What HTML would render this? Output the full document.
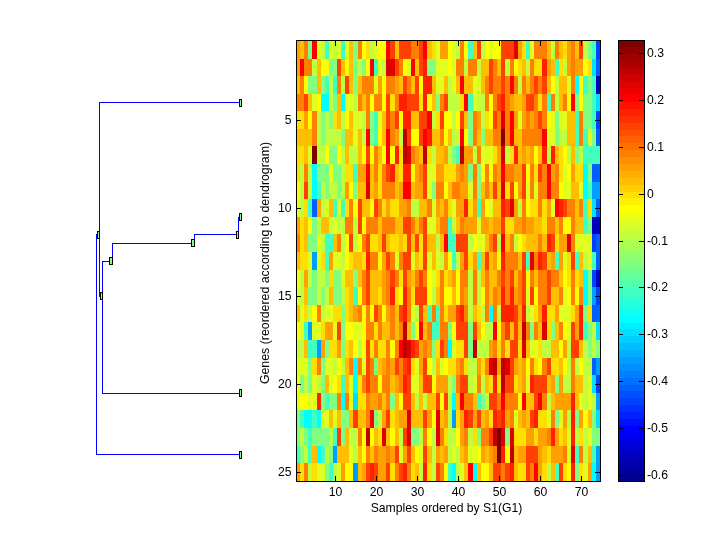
<!DOCTYPE html>
<html><head><meta charset="utf-8"><style>
html,body{margin:0;padding:0;background:#fff;width:720px;height:540px;overflow:hidden}
svg{display:block;will-change:transform}
text{font-family:"Liberation Sans",sans-serif;font-size:12.2px;fill:#000}
</style></head><body>
<svg width="720" height="540" viewBox="0 0 720 540" shape-rendering="crispEdges">
<rect x="0" y="0" width="720" height="540" fill="#fff"/>
<g><rect x="296" y="40" width="4" height="19" fill="#ff9f00"/>
<rect x="300" y="40" width="4" height="19" fill="#ffbf00"/>
<rect x="304" y="40" width="4" height="19" fill="#ff8000"/>
<rect x="308" y="40" width="4" height="19" fill="#80ff80"/>
<rect x="312" y="40" width="5" height="19" fill="#ff0000"/>
<rect x="317" y="40" width="4" height="19" fill="#dfff20"/>
<rect x="321" y="40" width="4" height="19" fill="#bfff40"/>
<rect x="325" y="40" width="4" height="19" fill="#40ffbf"/>
<rect x="329" y="40" width="4" height="19" fill="#dfff20"/>
<rect x="333" y="40" width="4" height="19" fill="#bfff40"/>
<rect x="337" y="40" width="4" height="19" fill="#dfff20"/>
<rect x="341" y="40" width="4" height="19" fill="#40ffbf"/>
<rect x="345" y="40" width="4" height="19" fill="#dfff20"/>
<rect x="349" y="40" width="4" height="19" fill="#ffbf00"/>
<rect x="353" y="40" width="5" height="19" fill="#80ff80"/>
<rect x="358" y="40" width="4" height="19" fill="#ff8000"/>
<rect x="362" y="40" width="4" height="19" fill="#ffff00"/>
<rect x="366" y="40" width="4" height="19" fill="#ffdf00"/>
<rect x="370" y="40" width="4" height="19" fill="#bfff40"/>
<rect x="374" y="40" width="4" height="19" fill="#dfff20"/>
<rect x="378" y="40" width="8" height="19" fill="#ffff00"/>
<rect x="386" y="40" width="4" height="19" fill="#ff0000"/>
<rect x="390" y="40" width="5" height="19" fill="#ff4000"/>
<rect x="395" y="40" width="4" height="19" fill="#ffbf00"/>
<rect x="399" y="40" width="12" height="19" fill="#ff4000"/>
<rect x="411" y="40" width="8" height="19" fill="#ff8000"/>
<rect x="419" y="40" width="4" height="19" fill="#ff4000"/>
<rect x="423" y="40" width="4" height="19" fill="#ff0000"/>
<rect x="427" y="40" width="5" height="19" fill="#ffbf00"/>
<rect x="432" y="40" width="4" height="19" fill="#ffdf00"/>
<rect x="436" y="40" width="4" height="19" fill="#dfff20"/>
<rect x="440" y="40" width="8" height="19" fill="#ff9f00"/>
<rect x="448" y="40" width="4" height="19" fill="#ffff00"/>
<rect x="452" y="40" width="4" height="19" fill="#dfff20"/>
<rect x="456" y="40" width="4" height="19" fill="#bfff40"/>
<rect x="460" y="40" width="4" height="19" fill="#ff8000"/>
<rect x="464" y="40" width="4" height="19" fill="#ffff00"/>
<rect x="468" y="40" width="5" height="19" fill="#40ffbf"/>
<rect x="473" y="40" width="4" height="19" fill="#ffbf00"/>
<rect x="477" y="40" width="4" height="19" fill="#ff4000"/>
<rect x="481" y="40" width="4" height="19" fill="#bfff40"/>
<rect x="485" y="40" width="4" height="19" fill="#ffff00"/>
<rect x="489" y="40" width="4" height="19" fill="#dfff20"/>
<rect x="493" y="40" width="8" height="19" fill="#ffff00"/>
<rect x="501" y="40" width="13" height="19" fill="#ff4000"/>
<rect x="514" y="40" width="4" height="19" fill="#df0000"/>
<rect x="518" y="40" width="4" height="19" fill="#ff9f00"/>
<rect x="522" y="40" width="4" height="19" fill="#ffdf00"/>
<rect x="526" y="40" width="4" height="19" fill="#40ffbf"/>
<rect x="530" y="40" width="4" height="19" fill="#dfff20"/>
<rect x="534" y="40" width="13" height="19" fill="#ff8000"/>
<rect x="547" y="40" width="4" height="19" fill="#ffbf00"/>
<rect x="551" y="40" width="4" height="19" fill="#bfff40"/>
<rect x="555" y="40" width="4" height="19" fill="#ff8000"/>
<rect x="559" y="40" width="4" height="19" fill="#ffbf00"/>
<rect x="563" y="40" width="4" height="19" fill="#ffdf00"/>
<rect x="567" y="40" width="4" height="19" fill="#ff9f00"/>
<rect x="571" y="40" width="4" height="19" fill="#ff8000"/>
<rect x="575" y="40" width="4" height="19" fill="#ffbf00"/>
<rect x="579" y="40" width="4" height="19" fill="#ff4000"/>
<rect x="583" y="40" width="5" height="19" fill="#bfff40"/>
<rect x="588" y="40" width="4" height="19" fill="#80ff80"/>
<rect x="592" y="40" width="4" height="19" fill="#40ffbf"/>
<rect x="596" y="40" width="4" height="19" fill="#0040ff"/>
<rect x="296" y="59" width="4" height="17" fill="#ff9f00"/>
<rect x="300" y="59" width="4" height="17" fill="#ff0000"/>
<rect x="304" y="59" width="8" height="17" fill="#ff8000"/>
<rect x="312" y="59" width="5" height="17" fill="#bfff40"/>
<rect x="317" y="59" width="4" height="17" fill="#ffbf00"/>
<rect x="321" y="59" width="8" height="17" fill="#ffff00"/>
<rect x="329" y="59" width="8" height="17" fill="#80ff80"/>
<rect x="337" y="59" width="4" height="17" fill="#ff4000"/>
<rect x="341" y="59" width="4" height="17" fill="#ffbf00"/>
<rect x="345" y="59" width="4" height="17" fill="#ffff00"/>
<rect x="349" y="59" width="4" height="17" fill="#ffbf00"/>
<rect x="353" y="59" width="5" height="17" fill="#80ff80"/>
<rect x="358" y="59" width="4" height="17" fill="#bfff40"/>
<rect x="362" y="59" width="4" height="17" fill="#80ff80"/>
<rect x="366" y="59" width="4" height="17" fill="#ffff00"/>
<rect x="370" y="59" width="4" height="17" fill="#ff0000"/>
<rect x="374" y="59" width="4" height="17" fill="#40ffbf"/>
<rect x="378" y="59" width="4" height="17" fill="#dfff20"/>
<rect x="382" y="59" width="4" height="17" fill="#bfff40"/>
<rect x="386" y="59" width="9" height="17" fill="#df0000"/>
<rect x="395" y="59" width="4" height="17" fill="#ff4000"/>
<rect x="399" y="59" width="4" height="17" fill="#ff8000"/>
<rect x="403" y="59" width="4" height="17" fill="#ffff00"/>
<rect x="407" y="59" width="4" height="17" fill="#dfff20"/>
<rect x="411" y="59" width="4" height="17" fill="#ff0000"/>
<rect x="415" y="59" width="4" height="17" fill="#ffbf00"/>
<rect x="419" y="59" width="4" height="17" fill="#ff4000"/>
<rect x="423" y="59" width="4" height="17" fill="#ff2000"/>
<rect x="427" y="59" width="9" height="17" fill="#80ff80"/>
<rect x="436" y="59" width="12" height="17" fill="#dfff20"/>
<rect x="448" y="59" width="4" height="17" fill="#ffff00"/>
<rect x="452" y="59" width="4" height="17" fill="#dfff20"/>
<rect x="456" y="59" width="8" height="17" fill="#ff8000"/>
<rect x="464" y="59" width="4" height="17" fill="#bfff40"/>
<rect x="468" y="59" width="9" height="17" fill="#ff8000"/>
<rect x="477" y="59" width="4" height="17" fill="#bfff40"/>
<rect x="481" y="59" width="8" height="17" fill="#ffbf00"/>
<rect x="489" y="59" width="4" height="17" fill="#ff4000"/>
<rect x="493" y="59" width="4" height="17" fill="#ff8000"/>
<rect x="497" y="59" width="4" height="17" fill="#ffbf00"/>
<rect x="501" y="59" width="4" height="17" fill="#ff4000"/>
<rect x="505" y="59" width="5" height="17" fill="#bfff40"/>
<rect x="510" y="59" width="4" height="17" fill="#ff8000"/>
<rect x="514" y="59" width="4" height="17" fill="#ffff00"/>
<rect x="518" y="59" width="4" height="17" fill="#ffdf00"/>
<rect x="522" y="59" width="4" height="17" fill="#ffbf00"/>
<rect x="526" y="59" width="4" height="17" fill="#bfff40"/>
<rect x="530" y="59" width="4" height="17" fill="#ff8000"/>
<rect x="534" y="59" width="8" height="17" fill="#ffdf00"/>
<rect x="542" y="59" width="5" height="17" fill="#ff2000"/>
<rect x="547" y="59" width="4" height="17" fill="#ff9f00"/>
<rect x="551" y="59" width="4" height="17" fill="#ffbf00"/>
<rect x="555" y="59" width="4" height="17" fill="#40ffbf"/>
<rect x="559" y="59" width="4" height="17" fill="#ffdf00"/>
<rect x="563" y="59" width="4" height="17" fill="#bfff40"/>
<rect x="567" y="59" width="4" height="17" fill="#ff9f00"/>
<rect x="571" y="59" width="4" height="17" fill="#ff8000"/>
<rect x="575" y="59" width="8" height="17" fill="#ff9f00"/>
<rect x="583" y="59" width="5" height="17" fill="#ffff00"/>
<rect x="588" y="59" width="4" height="17" fill="#ffdf00"/>
<rect x="592" y="59" width="4" height="17" fill="#00dfff"/>
<rect x="596" y="59" width="4" height="17" fill="#0060ff"/>
<rect x="296" y="76" width="4" height="18" fill="#ffbf00"/>
<rect x="300" y="76" width="4" height="18" fill="#ff8000"/>
<rect x="304" y="76" width="4" height="18" fill="#ffff00"/>
<rect x="308" y="76" width="9" height="18" fill="#80ff80"/>
<rect x="317" y="76" width="4" height="18" fill="#ffbf00"/>
<rect x="321" y="76" width="4" height="18" fill="#80ff80"/>
<rect x="325" y="76" width="4" height="18" fill="#40ffbf"/>
<rect x="329" y="76" width="4" height="18" fill="#bfff40"/>
<rect x="333" y="76" width="4" height="18" fill="#40ffbf"/>
<rect x="337" y="76" width="4" height="18" fill="#ff8000"/>
<rect x="341" y="76" width="4" height="18" fill="#bfff40"/>
<rect x="345" y="76" width="4" height="18" fill="#ff4000"/>
<rect x="349" y="76" width="4" height="18" fill="#ffbf00"/>
<rect x="353" y="76" width="5" height="18" fill="#80ff80"/>
<rect x="358" y="76" width="4" height="18" fill="#ffbf00"/>
<rect x="362" y="76" width="12" height="18" fill="#ff8000"/>
<rect x="374" y="76" width="4" height="18" fill="#dfff20"/>
<rect x="378" y="76" width="4" height="18" fill="#ff9f00"/>
<rect x="382" y="76" width="4" height="18" fill="#ffff00"/>
<rect x="386" y="76" width="9" height="18" fill="#ff8000"/>
<rect x="395" y="76" width="4" height="18" fill="#ff9f00"/>
<rect x="399" y="76" width="4" height="18" fill="#ffbf00"/>
<rect x="403" y="76" width="4" height="18" fill="#ff4000"/>
<rect x="407" y="76" width="4" height="18" fill="#ff8000"/>
<rect x="411" y="76" width="4" height="18" fill="#ffbf00"/>
<rect x="415" y="76" width="4" height="18" fill="#ff4000"/>
<rect x="419" y="76" width="4" height="18" fill="#ffff00"/>
<rect x="423" y="76" width="9" height="18" fill="#ff2000"/>
<rect x="432" y="76" width="4" height="18" fill="#ffbf00"/>
<rect x="436" y="76" width="8" height="18" fill="#dfff20"/>
<rect x="444" y="76" width="4" height="18" fill="#ffbf00"/>
<rect x="448" y="76" width="4" height="18" fill="#bfff40"/>
<rect x="452" y="76" width="4" height="18" fill="#dfff20"/>
<rect x="456" y="76" width="4" height="18" fill="#ffbf00"/>
<rect x="460" y="76" width="4" height="18" fill="#ff0000"/>
<rect x="464" y="76" width="9" height="18" fill="#ffbf00"/>
<rect x="473" y="76" width="8" height="18" fill="#dfff20"/>
<rect x="481" y="76" width="4" height="18" fill="#ffbf00"/>
<rect x="485" y="76" width="4" height="18" fill="#ff8000"/>
<rect x="489" y="76" width="4" height="18" fill="#ff4000"/>
<rect x="493" y="76" width="8" height="18" fill="#ff8000"/>
<rect x="501" y="76" width="4" height="18" fill="#ff4000"/>
<rect x="505" y="76" width="5" height="18" fill="#ff8000"/>
<rect x="510" y="76" width="4" height="18" fill="#ff0000"/>
<rect x="514" y="76" width="4" height="18" fill="#ff8000"/>
<rect x="518" y="76" width="4" height="18" fill="#bfff40"/>
<rect x="522" y="76" width="4" height="18" fill="#ff8000"/>
<rect x="526" y="76" width="4" height="18" fill="#ffbf00"/>
<rect x="530" y="76" width="4" height="18" fill="#ff8000"/>
<rect x="534" y="76" width="4" height="18" fill="#ff4000"/>
<rect x="538" y="76" width="4" height="18" fill="#ff8000"/>
<rect x="542" y="76" width="5" height="18" fill="#ff4000"/>
<rect x="547" y="76" width="4" height="18" fill="#ffbf00"/>
<rect x="551" y="76" width="4" height="18" fill="#ffff00"/>
<rect x="555" y="76" width="4" height="18" fill="#bfff40"/>
<rect x="559" y="76" width="8" height="18" fill="#ffbf00"/>
<rect x="567" y="76" width="4" height="18" fill="#dfff20"/>
<rect x="571" y="76" width="4" height="18" fill="#ff8000"/>
<rect x="575" y="76" width="4" height="18" fill="#00ffff"/>
<rect x="579" y="76" width="4" height="18" fill="#ffff00"/>
<rect x="583" y="76" width="5" height="18" fill="#40ffbf"/>
<rect x="588" y="76" width="4" height="18" fill="#80ff80"/>
<rect x="592" y="76" width="4" height="18" fill="#40ffbf"/>
<rect x="596" y="76" width="4" height="18" fill="#0000bf"/>
<rect x="296" y="94" width="8" height="17" fill="#ff8000"/>
<rect x="304" y="94" width="4" height="17" fill="#ff4000"/>
<rect x="308" y="94" width="4" height="17" fill="#ffbf00"/>
<rect x="312" y="94" width="5" height="17" fill="#dfff20"/>
<rect x="317" y="94" width="4" height="17" fill="#ffff00"/>
<rect x="321" y="94" width="8" height="17" fill="#00ffff"/>
<rect x="329" y="94" width="4" height="17" fill="#bfff40"/>
<rect x="333" y="94" width="4" height="17" fill="#80ff80"/>
<rect x="337" y="94" width="4" height="17" fill="#ffbf00"/>
<rect x="341" y="94" width="4" height="17" fill="#00ffff"/>
<rect x="345" y="94" width="8" height="17" fill="#dfff20"/>
<rect x="353" y="94" width="5" height="17" fill="#bfff40"/>
<rect x="358" y="94" width="4" height="17" fill="#ff8000"/>
<rect x="362" y="94" width="4" height="17" fill="#ffbf00"/>
<rect x="366" y="94" width="4" height="17" fill="#ff8000"/>
<rect x="370" y="94" width="4" height="17" fill="#ffff00"/>
<rect x="374" y="94" width="8" height="17" fill="#ff8000"/>
<rect x="382" y="94" width="4" height="17" fill="#ffff00"/>
<rect x="386" y="94" width="4" height="17" fill="#ff4000"/>
<rect x="390" y="94" width="5" height="17" fill="#ffdf00"/>
<rect x="395" y="94" width="4" height="17" fill="#ff8000"/>
<rect x="399" y="94" width="8" height="17" fill="#ff2000"/>
<rect x="407" y="94" width="12" height="17" fill="#ff4000"/>
<rect x="419" y="94" width="4" height="17" fill="#ffdf00"/>
<rect x="423" y="94" width="4" height="17" fill="#ff2000"/>
<rect x="427" y="94" width="5" height="17" fill="#ffff00"/>
<rect x="432" y="94" width="4" height="17" fill="#ffbf00"/>
<rect x="436" y="94" width="4" height="17" fill="#80ff80"/>
<rect x="440" y="94" width="4" height="17" fill="#ff8000"/>
<rect x="444" y="94" width="4" height="17" fill="#ff4000"/>
<rect x="448" y="94" width="12" height="17" fill="#bfff40"/>
<rect x="460" y="94" width="4" height="17" fill="#ffdf00"/>
<rect x="464" y="94" width="4" height="17" fill="#ff0000"/>
<rect x="468" y="94" width="5" height="17" fill="#40ffbf"/>
<rect x="473" y="94" width="4" height="17" fill="#dfff20"/>
<rect x="477" y="94" width="8" height="17" fill="#bfff40"/>
<rect x="485" y="94" width="4" height="17" fill="#ff8000"/>
<rect x="489" y="94" width="4" height="17" fill="#ffff00"/>
<rect x="493" y="94" width="4" height="17" fill="#ff8000"/>
<rect x="497" y="94" width="4" height="17" fill="#ff4000"/>
<rect x="501" y="94" width="4" height="17" fill="#ff2000"/>
<rect x="505" y="94" width="5" height="17" fill="#ff8000"/>
<rect x="510" y="94" width="4" height="17" fill="#ff9f00"/>
<rect x="514" y="94" width="8" height="17" fill="#ffbf00"/>
<rect x="522" y="94" width="4" height="17" fill="#ff9f00"/>
<rect x="526" y="94" width="8" height="17" fill="#ff4000"/>
<rect x="534" y="94" width="4" height="17" fill="#ff8000"/>
<rect x="538" y="94" width="4" height="17" fill="#ffdf00"/>
<rect x="542" y="94" width="5" height="17" fill="#ff8000"/>
<rect x="547" y="94" width="4" height="17" fill="#40ffbf"/>
<rect x="551" y="94" width="4" height="17" fill="#ff8000"/>
<rect x="555" y="94" width="4" height="17" fill="#bfff40"/>
<rect x="559" y="94" width="4" height="17" fill="#ffbf00"/>
<rect x="563" y="94" width="4" height="17" fill="#ff8000"/>
<rect x="567" y="94" width="4" height="17" fill="#ffff00"/>
<rect x="571" y="94" width="4" height="17" fill="#ff0000"/>
<rect x="575" y="94" width="4" height="17" fill="#80ff80"/>
<rect x="579" y="94" width="4" height="17" fill="#ffff00"/>
<rect x="583" y="94" width="9" height="17" fill="#80ff80"/>
<rect x="592" y="94" width="4" height="17" fill="#40ffbf"/>
<rect x="596" y="94" width="4" height="17" fill="#00dfff"/>
<rect x="296" y="111" width="8" height="18" fill="#ffdf00"/>
<rect x="304" y="111" width="4" height="18" fill="#ff9f00"/>
<rect x="308" y="111" width="4" height="18" fill="#ffff00"/>
<rect x="312" y="111" width="5" height="18" fill="#ff8000"/>
<rect x="317" y="111" width="4" height="18" fill="#bfff40"/>
<rect x="321" y="111" width="4" height="18" fill="#80ff80"/>
<rect x="325" y="111" width="4" height="18" fill="#bfff40"/>
<rect x="329" y="111" width="4" height="18" fill="#80ff80"/>
<rect x="333" y="111" width="4" height="18" fill="#ffdf00"/>
<rect x="337" y="111" width="4" height="18" fill="#ffbf00"/>
<rect x="341" y="111" width="4" height="18" fill="#bfff40"/>
<rect x="345" y="111" width="4" height="18" fill="#ffff00"/>
<rect x="349" y="111" width="4" height="18" fill="#ffbf00"/>
<rect x="353" y="111" width="9" height="18" fill="#dfff20"/>
<rect x="362" y="111" width="4" height="18" fill="#bfff40"/>
<rect x="366" y="111" width="4" height="18" fill="#ff8000"/>
<rect x="370" y="111" width="4" height="18" fill="#80ff80"/>
<rect x="374" y="111" width="4" height="18" fill="#40ffbf"/>
<rect x="378" y="111" width="4" height="18" fill="#dfff20"/>
<rect x="382" y="111" width="4" height="18" fill="#ffbf00"/>
<rect x="386" y="111" width="4" height="18" fill="#ff4000"/>
<rect x="390" y="111" width="5" height="18" fill="#ff8000"/>
<rect x="395" y="111" width="4" height="18" fill="#ff4000"/>
<rect x="399" y="111" width="4" height="18" fill="#ffff00"/>
<rect x="403" y="111" width="8" height="18" fill="#ff2000"/>
<rect x="411" y="111" width="8" height="18" fill="#ffbf00"/>
<rect x="419" y="111" width="8" height="18" fill="#ff4000"/>
<rect x="427" y="111" width="5" height="18" fill="#ff0000"/>
<rect x="432" y="111" width="4" height="18" fill="#bfff40"/>
<rect x="436" y="111" width="4" height="18" fill="#ffdf00"/>
<rect x="440" y="111" width="4" height="18" fill="#ff4000"/>
<rect x="444" y="111" width="8" height="18" fill="#ffff00"/>
<rect x="452" y="111" width="4" height="18" fill="#bfff40"/>
<rect x="456" y="111" width="4" height="18" fill="#ffff00"/>
<rect x="460" y="111" width="4" height="18" fill="#ff4000"/>
<rect x="464" y="111" width="4" height="18" fill="#ffbf00"/>
<rect x="468" y="111" width="5" height="18" fill="#80ff80"/>
<rect x="473" y="111" width="4" height="18" fill="#ff8000"/>
<rect x="477" y="111" width="4" height="18" fill="#ff9f00"/>
<rect x="481" y="111" width="4" height="18" fill="#bfff40"/>
<rect x="485" y="111" width="4" height="18" fill="#ffdf00"/>
<rect x="489" y="111" width="4" height="18" fill="#ffff00"/>
<rect x="493" y="111" width="4" height="18" fill="#ff4000"/>
<rect x="497" y="111" width="4" height="18" fill="#ff8000"/>
<rect x="501" y="111" width="4" height="18" fill="#df0000"/>
<rect x="505" y="111" width="5" height="18" fill="#ff8000"/>
<rect x="510" y="111" width="4" height="18" fill="#ff0000"/>
<rect x="514" y="111" width="4" height="18" fill="#ff9f00"/>
<rect x="518" y="111" width="4" height="18" fill="#dfff20"/>
<rect x="522" y="111" width="4" height="18" fill="#ff9f00"/>
<rect x="526" y="111" width="4" height="18" fill="#ff8000"/>
<rect x="530" y="111" width="4" height="18" fill="#ff9f00"/>
<rect x="534" y="111" width="4" height="18" fill="#ff8000"/>
<rect x="538" y="111" width="4" height="18" fill="#ff4000"/>
<rect x="542" y="111" width="5" height="18" fill="#ff8000"/>
<rect x="547" y="111" width="4" height="18" fill="#ffff00"/>
<rect x="551" y="111" width="4" height="18" fill="#dfff20"/>
<rect x="555" y="111" width="4" height="18" fill="#80ff80"/>
<rect x="559" y="111" width="8" height="18" fill="#dfff20"/>
<rect x="567" y="111" width="8" height="18" fill="#ffbf00"/>
<rect x="575" y="111" width="4" height="18" fill="#40ffbf"/>
<rect x="579" y="111" width="4" height="18" fill="#ff8000"/>
<rect x="583" y="111" width="9" height="18" fill="#80ff80"/>
<rect x="592" y="111" width="4" height="18" fill="#40ffbf"/>
<rect x="596" y="111" width="4" height="18" fill="#0040ff"/>
<rect x="296" y="129" width="16" height="17" fill="#ffbf00"/>
<rect x="312" y="129" width="5" height="17" fill="#ff8000"/>
<rect x="317" y="129" width="4" height="17" fill="#bfff40"/>
<rect x="321" y="129" width="4" height="17" fill="#80ff80"/>
<rect x="325" y="129" width="16" height="17" fill="#bfff40"/>
<rect x="341" y="129" width="4" height="17" fill="#80ff80"/>
<rect x="345" y="129" width="8" height="17" fill="#ffbf00"/>
<rect x="353" y="129" width="5" height="17" fill="#dfff20"/>
<rect x="358" y="129" width="4" height="17" fill="#ffbf00"/>
<rect x="362" y="129" width="4" height="17" fill="#bfff40"/>
<rect x="366" y="129" width="4" height="17" fill="#ff0000"/>
<rect x="370" y="129" width="4" height="17" fill="#80ff80"/>
<rect x="374" y="129" width="4" height="17" fill="#40ffbf"/>
<rect x="378" y="129" width="4" height="17" fill="#ffff00"/>
<rect x="382" y="129" width="4" height="17" fill="#ffbf00"/>
<rect x="386" y="129" width="4" height="17" fill="#ff0000"/>
<rect x="390" y="129" width="5" height="17" fill="#ff8000"/>
<rect x="395" y="129" width="4" height="17" fill="#ff9f00"/>
<rect x="399" y="129" width="4" height="17" fill="#bfff40"/>
<rect x="403" y="129" width="4" height="17" fill="#bf0000"/>
<rect x="407" y="129" width="4" height="17" fill="#ff4000"/>
<rect x="411" y="129" width="8" height="17" fill="#ffff00"/>
<rect x="419" y="129" width="4" height="17" fill="#ff4000"/>
<rect x="423" y="129" width="4" height="17" fill="#ff0000"/>
<rect x="427" y="129" width="5" height="17" fill="#ff2000"/>
<rect x="432" y="129" width="8" height="17" fill="#ffbf00"/>
<rect x="440" y="129" width="4" height="17" fill="#ff8000"/>
<rect x="444" y="129" width="4" height="17" fill="#ffff00"/>
<rect x="448" y="129" width="4" height="17" fill="#ffbf00"/>
<rect x="452" y="129" width="8" height="17" fill="#bfff40"/>
<rect x="460" y="129" width="4" height="17" fill="#ff0000"/>
<rect x="464" y="129" width="4" height="17" fill="#ffff00"/>
<rect x="468" y="129" width="5" height="17" fill="#80ff80"/>
<rect x="473" y="129" width="4" height="17" fill="#ff8000"/>
<rect x="477" y="129" width="4" height="17" fill="#ffbf00"/>
<rect x="481" y="129" width="4" height="17" fill="#80ff80"/>
<rect x="485" y="129" width="8" height="17" fill="#ffbf00"/>
<rect x="493" y="129" width="8" height="17" fill="#ff8000"/>
<rect x="501" y="129" width="4" height="17" fill="#800000"/>
<rect x="505" y="129" width="5" height="17" fill="#ff8000"/>
<rect x="510" y="129" width="4" height="17" fill="#ff0000"/>
<rect x="514" y="129" width="8" height="17" fill="#ffbf00"/>
<rect x="522" y="129" width="20" height="17" fill="#ff8000"/>
<rect x="542" y="129" width="5" height="17" fill="#ff0000"/>
<rect x="547" y="129" width="8" height="17" fill="#dfff20"/>
<rect x="555" y="129" width="4" height="17" fill="#80ff80"/>
<rect x="559" y="129" width="8" height="17" fill="#bfff40"/>
<rect x="567" y="129" width="8" height="17" fill="#ffbf00"/>
<rect x="575" y="129" width="4" height="17" fill="#40ffbf"/>
<rect x="579" y="129" width="4" height="17" fill="#ff8000"/>
<rect x="583" y="129" width="5" height="17" fill="#40ffbf"/>
<rect x="588" y="129" width="4" height="17" fill="#dfff20"/>
<rect x="592" y="129" width="4" height="17" fill="#80ff80"/>
<rect x="596" y="129" width="4" height="17" fill="#0060ff"/>
<rect x="296" y="146" width="8" height="18" fill="#ffdf00"/>
<rect x="304" y="146" width="4" height="18" fill="#ffbf00"/>
<rect x="308" y="146" width="4" height="18" fill="#dfff20"/>
<rect x="312" y="146" width="5" height="18" fill="#800000"/>
<rect x="317" y="146" width="8" height="18" fill="#bfff40"/>
<rect x="325" y="146" width="4" height="18" fill="#ffff00"/>
<rect x="329" y="146" width="8" height="18" fill="#80ff80"/>
<rect x="337" y="146" width="4" height="18" fill="#ffff00"/>
<rect x="341" y="146" width="4" height="18" fill="#bfff40"/>
<rect x="345" y="146" width="4" height="18" fill="#ffbf00"/>
<rect x="349" y="146" width="9" height="18" fill="#bfff40"/>
<rect x="358" y="146" width="4" height="18" fill="#ffbf00"/>
<rect x="362" y="146" width="4" height="18" fill="#ffff00"/>
<rect x="366" y="146" width="4" height="18" fill="#ff4000"/>
<rect x="370" y="146" width="4" height="18" fill="#ffff00"/>
<rect x="374" y="146" width="4" height="18" fill="#ff8000"/>
<rect x="378" y="146" width="4" height="18" fill="#ffbf00"/>
<rect x="382" y="146" width="4" height="18" fill="#ffff00"/>
<rect x="386" y="146" width="4" height="18" fill="#ff0000"/>
<rect x="390" y="146" width="5" height="18" fill="#ffff00"/>
<rect x="395" y="146" width="4" height="18" fill="#ff2000"/>
<rect x="399" y="146" width="4" height="18" fill="#ffdf00"/>
<rect x="403" y="146" width="4" height="18" fill="#bf0000"/>
<rect x="407" y="146" width="4" height="18" fill="#df0000"/>
<rect x="411" y="146" width="4" height="18" fill="#ff8000"/>
<rect x="415" y="146" width="4" height="18" fill="#ff9f00"/>
<rect x="419" y="146" width="4" height="18" fill="#ffbf00"/>
<rect x="423" y="146" width="4" height="18" fill="#bf0000"/>
<rect x="427" y="146" width="5" height="18" fill="#ffdf00"/>
<rect x="432" y="146" width="4" height="18" fill="#bfff40"/>
<rect x="436" y="146" width="8" height="18" fill="#ffbf00"/>
<rect x="444" y="146" width="4" height="18" fill="#ff9f00"/>
<rect x="448" y="146" width="4" height="18" fill="#bfff40"/>
<rect x="452" y="146" width="4" height="18" fill="#80ff80"/>
<rect x="456" y="146" width="4" height="18" fill="#40ffbf"/>
<rect x="460" y="146" width="4" height="18" fill="#bf0000"/>
<rect x="464" y="146" width="9" height="18" fill="#ff9f00"/>
<rect x="473" y="146" width="4" height="18" fill="#bfff40"/>
<rect x="477" y="146" width="4" height="18" fill="#ff8000"/>
<rect x="481" y="146" width="12" height="18" fill="#dfff20"/>
<rect x="493" y="146" width="4" height="18" fill="#ffdf00"/>
<rect x="497" y="146" width="4" height="18" fill="#ff9f00"/>
<rect x="501" y="146" width="4" height="18" fill="#df0000"/>
<rect x="505" y="146" width="5" height="18" fill="#bfff40"/>
<rect x="510" y="146" width="4" height="18" fill="#ffdf00"/>
<rect x="514" y="146" width="4" height="18" fill="#ff2000"/>
<rect x="518" y="146" width="4" height="18" fill="#ffbf00"/>
<rect x="522" y="146" width="4" height="18" fill="#ff9f00"/>
<rect x="526" y="146" width="4" height="18" fill="#ffbf00"/>
<rect x="530" y="146" width="4" height="18" fill="#ff9f00"/>
<rect x="534" y="146" width="4" height="18" fill="#ffff00"/>
<rect x="538" y="146" width="4" height="18" fill="#ffbf00"/>
<rect x="542" y="146" width="5" height="18" fill="#ff2000"/>
<rect x="547" y="146" width="4" height="18" fill="#bfff40"/>
<rect x="551" y="146" width="4" height="18" fill="#ff2000"/>
<rect x="555" y="146" width="4" height="18" fill="#ffbf00"/>
<rect x="559" y="146" width="4" height="18" fill="#ffdf00"/>
<rect x="563" y="146" width="4" height="18" fill="#ffff00"/>
<rect x="567" y="146" width="4" height="18" fill="#bfff40"/>
<rect x="571" y="146" width="4" height="18" fill="#ffbf00"/>
<rect x="575" y="146" width="4" height="18" fill="#80ff80"/>
<rect x="579" y="146" width="4" height="18" fill="#bfff40"/>
<rect x="583" y="146" width="17" height="18" fill="#40ffbf"/>
<rect x="296" y="164" width="4" height="18" fill="#ffdf00"/>
<rect x="300" y="164" width="4" height="18" fill="#bfff40"/>
<rect x="304" y="164" width="4" height="18" fill="#ff8000"/>
<rect x="308" y="164" width="4" height="18" fill="#bfff40"/>
<rect x="312" y="164" width="5" height="18" fill="#00ffff"/>
<rect x="317" y="164" width="12" height="18" fill="#80ff80"/>
<rect x="329" y="164" width="4" height="18" fill="#dfff20"/>
<rect x="333" y="164" width="8" height="18" fill="#80ff80"/>
<rect x="341" y="164" width="4" height="18" fill="#bfff40"/>
<rect x="345" y="164" width="8" height="18" fill="#ffdf00"/>
<rect x="353" y="164" width="5" height="18" fill="#40ffbf"/>
<rect x="358" y="164" width="8" height="18" fill="#ff9f00"/>
<rect x="366" y="164" width="4" height="18" fill="#ff0000"/>
<rect x="370" y="164" width="4" height="18" fill="#ffbf00"/>
<rect x="374" y="164" width="4" height="18" fill="#ff8000"/>
<rect x="378" y="164" width="4" height="18" fill="#ffdf00"/>
<rect x="382" y="164" width="4" height="18" fill="#ff8000"/>
<rect x="386" y="164" width="4" height="18" fill="#ff4000"/>
<rect x="390" y="164" width="5" height="18" fill="#ff2000"/>
<rect x="395" y="164" width="4" height="18" fill="#ffbf00"/>
<rect x="399" y="164" width="4" height="18" fill="#ffdf00"/>
<rect x="403" y="164" width="8" height="18" fill="#ff2000"/>
<rect x="411" y="164" width="4" height="18" fill="#ffff00"/>
<rect x="415" y="164" width="4" height="18" fill="#ff9f00"/>
<rect x="419" y="164" width="4" height="18" fill="#ff8000"/>
<rect x="423" y="164" width="4" height="18" fill="#ff4000"/>
<rect x="427" y="164" width="9" height="18" fill="#dfff20"/>
<rect x="436" y="164" width="8" height="18" fill="#ff9f00"/>
<rect x="444" y="164" width="12" height="18" fill="#ffdf00"/>
<rect x="456" y="164" width="4" height="18" fill="#ff9f00"/>
<rect x="460" y="164" width="4" height="18" fill="#ff8000"/>
<rect x="464" y="164" width="4" height="18" fill="#ff9f00"/>
<rect x="468" y="164" width="5" height="18" fill="#80ff80"/>
<rect x="473" y="164" width="4" height="18" fill="#ff8000"/>
<rect x="477" y="164" width="4" height="18" fill="#80ff80"/>
<rect x="481" y="164" width="4" height="18" fill="#ffff00"/>
<rect x="485" y="164" width="4" height="18" fill="#ff8000"/>
<rect x="489" y="164" width="4" height="18" fill="#ffff00"/>
<rect x="493" y="164" width="4" height="18" fill="#ff8000"/>
<rect x="497" y="164" width="4" height="18" fill="#ff9f00"/>
<rect x="501" y="164" width="4" height="18" fill="#ff0000"/>
<rect x="505" y="164" width="9" height="18" fill="#ff8000"/>
<rect x="514" y="164" width="8" height="18" fill="#ff9f00"/>
<rect x="522" y="164" width="4" height="18" fill="#ff4000"/>
<rect x="526" y="164" width="4" height="18" fill="#ffff00"/>
<rect x="530" y="164" width="4" height="18" fill="#ff8000"/>
<rect x="534" y="164" width="4" height="18" fill="#ffdf00"/>
<rect x="538" y="164" width="4" height="18" fill="#ff4000"/>
<rect x="542" y="164" width="5" height="18" fill="#ff8000"/>
<rect x="547" y="164" width="4" height="18" fill="#ff0000"/>
<rect x="551" y="164" width="4" height="18" fill="#ff9f00"/>
<rect x="555" y="164" width="4" height="18" fill="#ff8000"/>
<rect x="559" y="164" width="4" height="18" fill="#ffdf00"/>
<rect x="563" y="164" width="4" height="18" fill="#dfff20"/>
<rect x="567" y="164" width="4" height="18" fill="#ffff00"/>
<rect x="571" y="164" width="4" height="18" fill="#ff9f00"/>
<rect x="575" y="164" width="8" height="18" fill="#ffdf00"/>
<rect x="583" y="164" width="5" height="18" fill="#00ffff"/>
<rect x="588" y="164" width="4" height="18" fill="#80ff80"/>
<rect x="592" y="164" width="8" height="18" fill="#0060ff"/>
<rect x="296" y="182" width="4" height="17" fill="#ffff00"/>
<rect x="300" y="182" width="4" height="17" fill="#bfff40"/>
<rect x="304" y="182" width="4" height="17" fill="#ff4000"/>
<rect x="308" y="182" width="4" height="17" fill="#bfff40"/>
<rect x="312" y="182" width="5" height="17" fill="#00ffff"/>
<rect x="317" y="182" width="4" height="17" fill="#40ffbf"/>
<rect x="321" y="182" width="4" height="17" fill="#bfff40"/>
<rect x="325" y="182" width="4" height="17" fill="#80ff80"/>
<rect x="329" y="182" width="8" height="17" fill="#bfff40"/>
<rect x="337" y="182" width="4" height="17" fill="#80ff80"/>
<rect x="341" y="182" width="4" height="17" fill="#bfff40"/>
<rect x="345" y="182" width="4" height="17" fill="#ff9f00"/>
<rect x="349" y="182" width="4" height="17" fill="#ffff00"/>
<rect x="353" y="182" width="5" height="17" fill="#80ff80"/>
<rect x="358" y="182" width="8" height="17" fill="#ffbf00"/>
<rect x="366" y="182" width="4" height="17" fill="#df0000"/>
<rect x="370" y="182" width="4" height="17" fill="#ffbf00"/>
<rect x="374" y="182" width="4" height="17" fill="#ff9f00"/>
<rect x="378" y="182" width="4" height="17" fill="#ffdf00"/>
<rect x="382" y="182" width="13" height="17" fill="#ff8000"/>
<rect x="395" y="182" width="4" height="17" fill="#ffbf00"/>
<rect x="399" y="182" width="4" height="17" fill="#ff9f00"/>
<rect x="403" y="182" width="8" height="17" fill="#ff0000"/>
<rect x="411" y="182" width="4" height="17" fill="#ffbf00"/>
<rect x="415" y="182" width="8" height="17" fill="#ff9f00"/>
<rect x="423" y="182" width="4" height="17" fill="#ff4000"/>
<rect x="427" y="182" width="5" height="17" fill="#dfff20"/>
<rect x="432" y="182" width="4" height="17" fill="#80ff80"/>
<rect x="436" y="182" width="8" height="17" fill="#ff8000"/>
<rect x="444" y="182" width="4" height="17" fill="#ffff00"/>
<rect x="448" y="182" width="4" height="17" fill="#ffbf00"/>
<rect x="452" y="182" width="8" height="17" fill="#ff8000"/>
<rect x="460" y="182" width="8" height="17" fill="#ff9f00"/>
<rect x="468" y="182" width="5" height="17" fill="#dfff20"/>
<rect x="473" y="182" width="4" height="17" fill="#ff8000"/>
<rect x="477" y="182" width="4" height="17" fill="#80ff80"/>
<rect x="481" y="182" width="4" height="17" fill="#ffbf00"/>
<rect x="485" y="182" width="4" height="17" fill="#ff8000"/>
<rect x="489" y="182" width="4" height="17" fill="#ffbf00"/>
<rect x="493" y="182" width="4" height="17" fill="#ff4000"/>
<rect x="497" y="182" width="4" height="17" fill="#ffbf00"/>
<rect x="501" y="182" width="4" height="17" fill="#df0000"/>
<rect x="505" y="182" width="5" height="17" fill="#ffdf00"/>
<rect x="510" y="182" width="4" height="17" fill="#ff4000"/>
<rect x="514" y="182" width="4" height="17" fill="#ffff00"/>
<rect x="518" y="182" width="4" height="17" fill="#ff9f00"/>
<rect x="522" y="182" width="4" height="17" fill="#ff4000"/>
<rect x="526" y="182" width="4" height="17" fill="#dfff20"/>
<rect x="530" y="182" width="4" height="17" fill="#ff8000"/>
<rect x="534" y="182" width="4" height="17" fill="#dfff20"/>
<rect x="538" y="182" width="9" height="17" fill="#ff8000"/>
<rect x="547" y="182" width="4" height="17" fill="#ff0000"/>
<rect x="551" y="182" width="8" height="17" fill="#ff8000"/>
<rect x="559" y="182" width="4" height="17" fill="#ffff00"/>
<rect x="563" y="182" width="8" height="17" fill="#dfff20"/>
<rect x="571" y="182" width="8" height="17" fill="#ffbf00"/>
<rect x="579" y="182" width="4" height="17" fill="#dfff20"/>
<rect x="583" y="182" width="5" height="17" fill="#00ffff"/>
<rect x="588" y="182" width="4" height="17" fill="#40ffbf"/>
<rect x="592" y="182" width="8" height="17" fill="#009fff"/>
<rect x="296" y="199" width="4" height="18" fill="#dfff20"/>
<rect x="300" y="199" width="4" height="18" fill="#bfff40"/>
<rect x="304" y="199" width="4" height="18" fill="#ffdf00"/>
<rect x="308" y="199" width="4" height="18" fill="#40ffbf"/>
<rect x="312" y="199" width="5" height="18" fill="#0060ff"/>
<rect x="317" y="199" width="4" height="18" fill="#ff9f00"/>
<rect x="321" y="199" width="4" height="18" fill="#bfff40"/>
<rect x="325" y="199" width="4" height="18" fill="#dfff20"/>
<rect x="329" y="199" width="4" height="18" fill="#ffbf00"/>
<rect x="333" y="199" width="4" height="18" fill="#40ffbf"/>
<rect x="337" y="199" width="4" height="18" fill="#dfff20"/>
<rect x="341" y="199" width="4" height="18" fill="#40ffbf"/>
<rect x="345" y="199" width="4" height="18" fill="#ffdf00"/>
<rect x="349" y="199" width="4" height="18" fill="#ff8000"/>
<rect x="353" y="199" width="5" height="18" fill="#ffff00"/>
<rect x="358" y="199" width="4" height="18" fill="#ff4000"/>
<rect x="362" y="199" width="8" height="18" fill="#ffbf00"/>
<rect x="370" y="199" width="4" height="18" fill="#ffff00"/>
<rect x="374" y="199" width="4" height="18" fill="#ff4000"/>
<rect x="378" y="199" width="4" height="18" fill="#ff8000"/>
<rect x="382" y="199" width="4" height="18" fill="#ffdf00"/>
<rect x="386" y="199" width="4" height="18" fill="#ff9f00"/>
<rect x="390" y="199" width="9" height="18" fill="#ffdf00"/>
<rect x="399" y="199" width="8" height="18" fill="#ff9f00"/>
<rect x="407" y="199" width="4" height="18" fill="#ff8000"/>
<rect x="411" y="199" width="8" height="18" fill="#bfff40"/>
<rect x="419" y="199" width="8" height="18" fill="#ffbf00"/>
<rect x="427" y="199" width="5" height="18" fill="#ff8000"/>
<rect x="432" y="199" width="4" height="18" fill="#dfff20"/>
<rect x="436" y="199" width="4" height="18" fill="#ff9f00"/>
<rect x="440" y="199" width="4" height="18" fill="#ffbf00"/>
<rect x="444" y="199" width="4" height="18" fill="#ff8000"/>
<rect x="448" y="199" width="4" height="18" fill="#ffdf00"/>
<rect x="452" y="199" width="4" height="18" fill="#dfff20"/>
<rect x="456" y="199" width="8" height="18" fill="#ff9f00"/>
<rect x="464" y="199" width="4" height="18" fill="#ff2000"/>
<rect x="468" y="199" width="5" height="18" fill="#ffdf00"/>
<rect x="473" y="199" width="4" height="18" fill="#ff9f00"/>
<rect x="477" y="199" width="4" height="18" fill="#40ffbf"/>
<rect x="481" y="199" width="4" height="18" fill="#ff9f00"/>
<rect x="485" y="199" width="4" height="18" fill="#ffff00"/>
<rect x="489" y="199" width="4" height="18" fill="#dfff20"/>
<rect x="493" y="199" width="8" height="18" fill="#ffbf00"/>
<rect x="501" y="199" width="4" height="18" fill="#ff2000"/>
<rect x="505" y="199" width="5" height="18" fill="#ff4000"/>
<rect x="510" y="199" width="4" height="18" fill="#df0000"/>
<rect x="514" y="199" width="4" height="18" fill="#ff9f00"/>
<rect x="518" y="199" width="4" height="18" fill="#bfff40"/>
<rect x="522" y="199" width="4" height="18" fill="#ff8000"/>
<rect x="526" y="199" width="4" height="18" fill="#ffff00"/>
<rect x="530" y="199" width="8" height="18" fill="#ffdf00"/>
<rect x="538" y="199" width="4" height="18" fill="#ff8000"/>
<rect x="542" y="199" width="5" height="18" fill="#ffdf00"/>
<rect x="547" y="199" width="4" height="18" fill="#ff9f00"/>
<rect x="551" y="199" width="4" height="18" fill="#dfff20"/>
<rect x="555" y="199" width="4" height="18" fill="#ff0000"/>
<rect x="559" y="199" width="4" height="18" fill="#ff2000"/>
<rect x="563" y="199" width="4" height="18" fill="#ff4000"/>
<rect x="567" y="199" width="8" height="18" fill="#ff8000"/>
<rect x="575" y="199" width="4" height="18" fill="#ffbf00"/>
<rect x="579" y="199" width="4" height="18" fill="#ff8000"/>
<rect x="583" y="199" width="5" height="18" fill="#40ffbf"/>
<rect x="588" y="199" width="4" height="18" fill="#ffdf00"/>
<rect x="592" y="199" width="4" height="18" fill="#00dfff"/>
<rect x="596" y="199" width="4" height="18" fill="#0060ff"/>
<rect x="296" y="217" width="4" height="17" fill="#ff9f00"/>
<rect x="300" y="217" width="4" height="17" fill="#ffdf00"/>
<rect x="304" y="217" width="4" height="17" fill="#ffbf00"/>
<rect x="308" y="217" width="4" height="17" fill="#ffff00"/>
<rect x="312" y="217" width="5" height="17" fill="#80ff80"/>
<rect x="317" y="217" width="4" height="17" fill="#bfff40"/>
<rect x="321" y="217" width="8" height="17" fill="#ffbf00"/>
<rect x="329" y="217" width="4" height="17" fill="#bfff40"/>
<rect x="333" y="217" width="4" height="17" fill="#dfff20"/>
<rect x="337" y="217" width="8" height="17" fill="#bfff40"/>
<rect x="345" y="217" width="8" height="17" fill="#ff8000"/>
<rect x="353" y="217" width="5" height="17" fill="#bfff40"/>
<rect x="358" y="217" width="4" height="17" fill="#ff4000"/>
<rect x="362" y="217" width="4" height="17" fill="#ffff00"/>
<rect x="366" y="217" width="12" height="17" fill="#ff8000"/>
<rect x="378" y="217" width="4" height="17" fill="#ffbf00"/>
<rect x="382" y="217" width="13" height="17" fill="#ff8000"/>
<rect x="395" y="217" width="8" height="17" fill="#ffbf00"/>
<rect x="403" y="217" width="8" height="17" fill="#ff4000"/>
<rect x="411" y="217" width="4" height="17" fill="#ff8000"/>
<rect x="415" y="217" width="4" height="17" fill="#ffbf00"/>
<rect x="419" y="217" width="4" height="17" fill="#ff8000"/>
<rect x="423" y="217" width="4" height="17" fill="#ff4000"/>
<rect x="427" y="217" width="9" height="17" fill="#dfff20"/>
<rect x="436" y="217" width="4" height="17" fill="#ffbf00"/>
<rect x="440" y="217" width="8" height="17" fill="#ff8000"/>
<rect x="448" y="217" width="4" height="17" fill="#40ffbf"/>
<rect x="452" y="217" width="4" height="17" fill="#bfff40"/>
<rect x="456" y="217" width="4" height="17" fill="#ffbf00"/>
<rect x="460" y="217" width="4" height="17" fill="#ff8000"/>
<rect x="464" y="217" width="13" height="17" fill="#ff9f00"/>
<rect x="477" y="217" width="4" height="17" fill="#dfff20"/>
<rect x="481" y="217" width="8" height="17" fill="#ff9f00"/>
<rect x="489" y="217" width="4" height="17" fill="#ffbf00"/>
<rect x="493" y="217" width="8" height="17" fill="#ff9f00"/>
<rect x="501" y="217" width="4" height="17" fill="#ff4000"/>
<rect x="505" y="217" width="9" height="17" fill="#ffdf00"/>
<rect x="514" y="217" width="8" height="17" fill="#ff9f00"/>
<rect x="522" y="217" width="4" height="17" fill="#ff8000"/>
<rect x="526" y="217" width="8" height="17" fill="#ff9f00"/>
<rect x="534" y="217" width="8" height="17" fill="#ffbf00"/>
<rect x="542" y="217" width="5" height="17" fill="#ffdf00"/>
<rect x="547" y="217" width="8" height="17" fill="#ff8000"/>
<rect x="555" y="217" width="4" height="17" fill="#ffbf00"/>
<rect x="559" y="217" width="4" height="17" fill="#ff8000"/>
<rect x="563" y="217" width="8" height="17" fill="#ffff00"/>
<rect x="571" y="217" width="4" height="17" fill="#ff8000"/>
<rect x="575" y="217" width="8" height="17" fill="#ffbf00"/>
<rect x="583" y="217" width="5" height="17" fill="#40ffbf"/>
<rect x="588" y="217" width="4" height="17" fill="#80ff80"/>
<rect x="592" y="217" width="8" height="17" fill="#0000bf"/>
<rect x="296" y="234" width="4" height="18" fill="#ff8000"/>
<rect x="300" y="234" width="4" height="18" fill="#ffdf00"/>
<rect x="304" y="234" width="4" height="18" fill="#ffbf00"/>
<rect x="308" y="234" width="9" height="18" fill="#80ff80"/>
<rect x="317" y="234" width="4" height="18" fill="#dfff20"/>
<rect x="321" y="234" width="4" height="18" fill="#bfff40"/>
<rect x="325" y="234" width="8" height="18" fill="#40ffbf"/>
<rect x="333" y="234" width="4" height="18" fill="#ffbf00"/>
<rect x="337" y="234" width="4" height="18" fill="#ff8000"/>
<rect x="341" y="234" width="4" height="18" fill="#bfff40"/>
<rect x="345" y="234" width="4" height="18" fill="#ffff00"/>
<rect x="349" y="234" width="4" height="18" fill="#ff4000"/>
<rect x="353" y="234" width="5" height="18" fill="#bfff40"/>
<rect x="358" y="234" width="4" height="18" fill="#ffff00"/>
<rect x="362" y="234" width="4" height="18" fill="#ff8000"/>
<rect x="366" y="234" width="4" height="18" fill="#ff4000"/>
<rect x="370" y="234" width="8" height="18" fill="#ffdf00"/>
<rect x="378" y="234" width="4" height="18" fill="#ffbf00"/>
<rect x="382" y="234" width="4" height="18" fill="#ff4000"/>
<rect x="386" y="234" width="4" height="18" fill="#ffbf00"/>
<rect x="390" y="234" width="9" height="18" fill="#ffdf00"/>
<rect x="399" y="234" width="4" height="18" fill="#ffbf00"/>
<rect x="403" y="234" width="4" height="18" fill="#ffdf00"/>
<rect x="407" y="234" width="4" height="18" fill="#ff4000"/>
<rect x="411" y="234" width="4" height="18" fill="#ffbf00"/>
<rect x="415" y="234" width="4" height="18" fill="#ff4000"/>
<rect x="419" y="234" width="4" height="18" fill="#ffdf00"/>
<rect x="423" y="234" width="4" height="18" fill="#ff4000"/>
<rect x="427" y="234" width="9" height="18" fill="#ffbf00"/>
<rect x="436" y="234" width="4" height="18" fill="#bfff40"/>
<rect x="440" y="234" width="4" height="18" fill="#ffbf00"/>
<rect x="444" y="234" width="4" height="18" fill="#ff0000"/>
<rect x="448" y="234" width="8" height="18" fill="#40ffbf"/>
<rect x="456" y="234" width="12" height="18" fill="#ff4000"/>
<rect x="468" y="234" width="5" height="18" fill="#bfff40"/>
<rect x="473" y="234" width="4" height="18" fill="#ffff00"/>
<rect x="477" y="234" width="8" height="18" fill="#dfff20"/>
<rect x="485" y="234" width="4" height="18" fill="#ffbf00"/>
<rect x="489" y="234" width="4" height="18" fill="#ff8000"/>
<rect x="493" y="234" width="4" height="18" fill="#ff4000"/>
<rect x="497" y="234" width="4" height="18" fill="#bfff40"/>
<rect x="501" y="234" width="4" height="18" fill="#ff0000"/>
<rect x="505" y="234" width="5" height="18" fill="#ffbf00"/>
<rect x="510" y="234" width="4" height="18" fill="#ff8000"/>
<rect x="514" y="234" width="4" height="18" fill="#bfff40"/>
<rect x="518" y="234" width="4" height="18" fill="#ffff00"/>
<rect x="522" y="234" width="4" height="18" fill="#ffdf00"/>
<rect x="526" y="234" width="12" height="18" fill="#ffbf00"/>
<rect x="538" y="234" width="4" height="18" fill="#ff8000"/>
<rect x="542" y="234" width="5" height="18" fill="#ffbf00"/>
<rect x="547" y="234" width="4" height="18" fill="#ff2000"/>
<rect x="551" y="234" width="4" height="18" fill="#ff4000"/>
<rect x="555" y="234" width="4" height="18" fill="#ffdf00"/>
<rect x="559" y="234" width="8" height="18" fill="#ff9f00"/>
<rect x="567" y="234" width="4" height="18" fill="#df0000"/>
<rect x="571" y="234" width="4" height="18" fill="#ff8000"/>
<rect x="575" y="234" width="17" height="18" fill="#dfff20"/>
<rect x="592" y="234" width="4" height="18" fill="#0040ff"/>
<rect x="596" y="234" width="4" height="18" fill="#0060ff"/>
<rect x="296" y="252" width="4" height="18" fill="#ffbf00"/>
<rect x="300" y="252" width="8" height="18" fill="#ffdf00"/>
<rect x="308" y="252" width="4" height="18" fill="#dfff20"/>
<rect x="312" y="252" width="5" height="18" fill="#009fff"/>
<rect x="317" y="252" width="4" height="18" fill="#dfff20"/>
<rect x="321" y="252" width="4" height="18" fill="#ffdf00"/>
<rect x="325" y="252" width="4" height="18" fill="#40ffbf"/>
<rect x="329" y="252" width="4" height="18" fill="#ff9f00"/>
<rect x="333" y="252" width="8" height="18" fill="#dfff20"/>
<rect x="341" y="252" width="4" height="18" fill="#bfff40"/>
<rect x="345" y="252" width="4" height="18" fill="#ffff00"/>
<rect x="349" y="252" width="4" height="18" fill="#ffdf00"/>
<rect x="353" y="252" width="9" height="18" fill="#ffbf00"/>
<rect x="362" y="252" width="4" height="18" fill="#ffdf00"/>
<rect x="366" y="252" width="4" height="18" fill="#ff2000"/>
<rect x="370" y="252" width="8" height="18" fill="#ff8000"/>
<rect x="378" y="252" width="4" height="18" fill="#ffff00"/>
<rect x="382" y="252" width="4" height="18" fill="#ff9f00"/>
<rect x="386" y="252" width="4" height="18" fill="#ff4000"/>
<rect x="390" y="252" width="5" height="18" fill="#ff8000"/>
<rect x="395" y="252" width="4" height="18" fill="#dfff20"/>
<rect x="399" y="252" width="4" height="18" fill="#ff8000"/>
<rect x="403" y="252" width="8" height="18" fill="#ff4000"/>
<rect x="411" y="252" width="4" height="18" fill="#dfff20"/>
<rect x="415" y="252" width="4" height="18" fill="#ffbf00"/>
<rect x="419" y="252" width="4" height="18" fill="#ffdf00"/>
<rect x="423" y="252" width="4" height="18" fill="#ff4000"/>
<rect x="427" y="252" width="5" height="18" fill="#dfff20"/>
<rect x="432" y="252" width="4" height="18" fill="#ffbf00"/>
<rect x="436" y="252" width="4" height="18" fill="#dfff20"/>
<rect x="440" y="252" width="4" height="18" fill="#bfff40"/>
<rect x="444" y="252" width="4" height="18" fill="#ff9f00"/>
<rect x="448" y="252" width="4" height="18" fill="#ffff00"/>
<rect x="452" y="252" width="4" height="18" fill="#40ffbf"/>
<rect x="456" y="252" width="4" height="18" fill="#bfff40"/>
<rect x="460" y="252" width="4" height="18" fill="#ff9f00"/>
<rect x="464" y="252" width="4" height="18" fill="#ff4000"/>
<rect x="468" y="252" width="5" height="18" fill="#ffdf00"/>
<rect x="473" y="252" width="4" height="18" fill="#ff9f00"/>
<rect x="477" y="252" width="4" height="18" fill="#40ffbf"/>
<rect x="481" y="252" width="4" height="18" fill="#ffbf00"/>
<rect x="485" y="252" width="4" height="18" fill="#ff4000"/>
<rect x="489" y="252" width="4" height="18" fill="#ffbf00"/>
<rect x="493" y="252" width="4" height="18" fill="#ff9f00"/>
<rect x="497" y="252" width="4" height="18" fill="#ffff00"/>
<rect x="501" y="252" width="4" height="18" fill="#ff2000"/>
<rect x="505" y="252" width="13" height="18" fill="#ff8000"/>
<rect x="518" y="252" width="4" height="18" fill="#ffbf00"/>
<rect x="522" y="252" width="4" height="18" fill="#ff4000"/>
<rect x="526" y="252" width="4" height="18" fill="#40ffbf"/>
<rect x="530" y="252" width="4" height="18" fill="#df0000"/>
<rect x="534" y="252" width="4" height="18" fill="#ff8000"/>
<rect x="538" y="252" width="4" height="18" fill="#ff2000"/>
<rect x="542" y="252" width="5" height="18" fill="#ff4000"/>
<rect x="547" y="252" width="4" height="18" fill="#ffbf00"/>
<rect x="551" y="252" width="4" height="18" fill="#ff9f00"/>
<rect x="555" y="252" width="4" height="18" fill="#40ffbf"/>
<rect x="559" y="252" width="4" height="18" fill="#ff9f00"/>
<rect x="563" y="252" width="4" height="18" fill="#dfff20"/>
<rect x="567" y="252" width="4" height="18" fill="#ffdf00"/>
<rect x="571" y="252" width="4" height="18" fill="#ff4000"/>
<rect x="575" y="252" width="4" height="18" fill="#40ffbf"/>
<rect x="579" y="252" width="4" height="18" fill="#ffbf00"/>
<rect x="583" y="252" width="5" height="18" fill="#bfff40"/>
<rect x="588" y="252" width="4" height="18" fill="#dfff20"/>
<rect x="592" y="252" width="4" height="18" fill="#40ffbf"/>
<rect x="596" y="252" width="4" height="18" fill="#0060ff"/>
<rect x="296" y="270" width="4" height="17" fill="#ffff00"/>
<rect x="300" y="270" width="4" height="17" fill="#bfff40"/>
<rect x="304" y="270" width="4" height="17" fill="#ff9f00"/>
<rect x="308" y="270" width="4" height="17" fill="#bfff40"/>
<rect x="312" y="270" width="5" height="17" fill="#80ff80"/>
<rect x="317" y="270" width="8" height="17" fill="#bfff40"/>
<rect x="325" y="270" width="4" height="17" fill="#80ff80"/>
<rect x="329" y="270" width="4" height="17" fill="#ffdf00"/>
<rect x="333" y="270" width="8" height="17" fill="#80ff80"/>
<rect x="341" y="270" width="4" height="17" fill="#dfff20"/>
<rect x="345" y="270" width="8" height="17" fill="#ffbf00"/>
<rect x="353" y="270" width="5" height="17" fill="#80ff80"/>
<rect x="358" y="270" width="4" height="17" fill="#ffbf00"/>
<rect x="362" y="270" width="4" height="17" fill="#ff8000"/>
<rect x="366" y="270" width="4" height="17" fill="#ff4000"/>
<rect x="370" y="270" width="12" height="17" fill="#ffbf00"/>
<rect x="382" y="270" width="4" height="17" fill="#ff9f00"/>
<rect x="386" y="270" width="4" height="17" fill="#ff8000"/>
<rect x="390" y="270" width="5" height="17" fill="#ff4000"/>
<rect x="395" y="270" width="4" height="17" fill="#ff8000"/>
<rect x="399" y="270" width="4" height="17" fill="#ffdf00"/>
<rect x="403" y="270" width="4" height="17" fill="#ff4000"/>
<rect x="407" y="270" width="4" height="17" fill="#ff9f00"/>
<rect x="411" y="270" width="4" height="17" fill="#ffbf00"/>
<rect x="415" y="270" width="4" height="17" fill="#ff8000"/>
<rect x="419" y="270" width="4" height="17" fill="#ff4000"/>
<rect x="423" y="270" width="4" height="17" fill="#ff8000"/>
<rect x="427" y="270" width="5" height="17" fill="#ffff00"/>
<rect x="432" y="270" width="4" height="17" fill="#dfff20"/>
<rect x="436" y="270" width="4" height="17" fill="#ffdf00"/>
<rect x="440" y="270" width="4" height="17" fill="#ff8000"/>
<rect x="444" y="270" width="4" height="17" fill="#ffdf00"/>
<rect x="448" y="270" width="4" height="17" fill="#ffbf00"/>
<rect x="452" y="270" width="4" height="17" fill="#ff9f00"/>
<rect x="456" y="270" width="4" height="17" fill="#ffff00"/>
<rect x="460" y="270" width="8" height="17" fill="#ff8000"/>
<rect x="468" y="270" width="5" height="17" fill="#bfff40"/>
<rect x="473" y="270" width="4" height="17" fill="#ff8000"/>
<rect x="477" y="270" width="4" height="17" fill="#bfff40"/>
<rect x="481" y="270" width="4" height="17" fill="#ffbf00"/>
<rect x="485" y="270" width="4" height="17" fill="#ff8000"/>
<rect x="489" y="270" width="8" height="17" fill="#ffbf00"/>
<rect x="497" y="270" width="4" height="17" fill="#ff8000"/>
<rect x="501" y="270" width="4" height="17" fill="#ff4000"/>
<rect x="505" y="270" width="5" height="17" fill="#ff8000"/>
<rect x="510" y="270" width="4" height="17" fill="#ff4000"/>
<rect x="514" y="270" width="4" height="17" fill="#ffbf00"/>
<rect x="518" y="270" width="4" height="17" fill="#ff8000"/>
<rect x="522" y="270" width="4" height="17" fill="#ff4000"/>
<rect x="526" y="270" width="4" height="17" fill="#ffff00"/>
<rect x="530" y="270" width="4" height="17" fill="#ff8000"/>
<rect x="534" y="270" width="4" height="17" fill="#ffbf00"/>
<rect x="538" y="270" width="9" height="17" fill="#ff8000"/>
<rect x="547" y="270" width="4" height="17" fill="#ff4000"/>
<rect x="551" y="270" width="8" height="17" fill="#ff8000"/>
<rect x="559" y="270" width="4" height="17" fill="#ffbf00"/>
<rect x="563" y="270" width="4" height="17" fill="#ffff00"/>
<rect x="567" y="270" width="4" height="17" fill="#ffdf00"/>
<rect x="571" y="270" width="4" height="17" fill="#ff8000"/>
<rect x="575" y="270" width="4" height="17" fill="#ffdf00"/>
<rect x="579" y="270" width="4" height="17" fill="#ffbf00"/>
<rect x="583" y="270" width="5" height="17" fill="#00ffff"/>
<rect x="588" y="270" width="4" height="17" fill="#80ff80"/>
<rect x="592" y="270" width="4" height="17" fill="#0040ff"/>
<rect x="596" y="270" width="4" height="17" fill="#0000bf"/>
<rect x="296" y="287" width="4" height="18" fill="#dfff20"/>
<rect x="300" y="287" width="4" height="18" fill="#bfff40"/>
<rect x="304" y="287" width="4" height="18" fill="#ffbf00"/>
<rect x="308" y="287" width="9" height="18" fill="#80ff80"/>
<rect x="317" y="287" width="4" height="18" fill="#bfff40"/>
<rect x="321" y="287" width="4" height="18" fill="#80ff80"/>
<rect x="325" y="287" width="4" height="18" fill="#bfff40"/>
<rect x="329" y="287" width="4" height="18" fill="#ffbf00"/>
<rect x="333" y="287" width="8" height="18" fill="#80ff80"/>
<rect x="341" y="287" width="4" height="18" fill="#bfff40"/>
<rect x="345" y="287" width="4" height="18" fill="#ffdf00"/>
<rect x="349" y="287" width="4" height="18" fill="#ffbf00"/>
<rect x="353" y="287" width="5" height="18" fill="#40ffbf"/>
<rect x="358" y="287" width="4" height="18" fill="#ffff00"/>
<rect x="362" y="287" width="4" height="18" fill="#ff8000"/>
<rect x="366" y="287" width="4" height="18" fill="#ff4000"/>
<rect x="370" y="287" width="8" height="18" fill="#ffbf00"/>
<rect x="378" y="287" width="4" height="18" fill="#ffdf00"/>
<rect x="382" y="287" width="4" height="18" fill="#ff9f00"/>
<rect x="386" y="287" width="4" height="18" fill="#ff8000"/>
<rect x="390" y="287" width="5" height="18" fill="#ff2000"/>
<rect x="395" y="287" width="4" height="18" fill="#ffdf00"/>
<rect x="399" y="287" width="4" height="18" fill="#ffff00"/>
<rect x="403" y="287" width="4" height="18" fill="#ff2000"/>
<rect x="407" y="287" width="4" height="18" fill="#ff8000"/>
<rect x="411" y="287" width="4" height="18" fill="#ffdf00"/>
<rect x="415" y="287" width="12" height="18" fill="#ff4000"/>
<rect x="427" y="287" width="5" height="18" fill="#ffff00"/>
<rect x="432" y="287" width="4" height="18" fill="#bfff40"/>
<rect x="436" y="287" width="4" height="18" fill="#ffbf00"/>
<rect x="440" y="287" width="4" height="18" fill="#ff8000"/>
<rect x="444" y="287" width="8" height="18" fill="#ffff00"/>
<rect x="452" y="287" width="4" height="18" fill="#ffbf00"/>
<rect x="456" y="287" width="4" height="18" fill="#ffff00"/>
<rect x="460" y="287" width="4" height="18" fill="#ff8000"/>
<rect x="464" y="287" width="4" height="18" fill="#ff9f00"/>
<rect x="468" y="287" width="5" height="18" fill="#bfff40"/>
<rect x="473" y="287" width="4" height="18" fill="#ff8000"/>
<rect x="477" y="287" width="4" height="18" fill="#bfff40"/>
<rect x="481" y="287" width="4" height="18" fill="#ffff00"/>
<rect x="485" y="287" width="4" height="18" fill="#ff8000"/>
<rect x="489" y="287" width="4" height="18" fill="#ffbf00"/>
<rect x="493" y="287" width="4" height="18" fill="#ff8000"/>
<rect x="497" y="287" width="4" height="18" fill="#ff9f00"/>
<rect x="501" y="287" width="4" height="18" fill="#ff2000"/>
<rect x="505" y="287" width="5" height="18" fill="#ff8000"/>
<rect x="510" y="287" width="4" height="18" fill="#ff2000"/>
<rect x="514" y="287" width="4" height="18" fill="#ff9f00"/>
<rect x="518" y="287" width="4" height="18" fill="#ff8000"/>
<rect x="522" y="287" width="4" height="18" fill="#ff4000"/>
<rect x="526" y="287" width="4" height="18" fill="#dfff20"/>
<rect x="530" y="287" width="4" height="18" fill="#ff4000"/>
<rect x="534" y="287" width="4" height="18" fill="#ffff00"/>
<rect x="538" y="287" width="9" height="18" fill="#ff8000"/>
<rect x="547" y="287" width="4" height="18" fill="#ff4000"/>
<rect x="551" y="287" width="8" height="18" fill="#ffbf00"/>
<rect x="559" y="287" width="4" height="18" fill="#ff8000"/>
<rect x="563" y="287" width="4" height="18" fill="#dfff20"/>
<rect x="567" y="287" width="4" height="18" fill="#ffff00"/>
<rect x="571" y="287" width="4" height="18" fill="#ff8000"/>
<rect x="575" y="287" width="4" height="18" fill="#ffff00"/>
<rect x="579" y="287" width="4" height="18" fill="#ff8000"/>
<rect x="583" y="287" width="5" height="18" fill="#00ffff"/>
<rect x="588" y="287" width="4" height="18" fill="#80ff80"/>
<rect x="592" y="287" width="4" height="18" fill="#009fff"/>
<rect x="596" y="287" width="4" height="18" fill="#0040ff"/>
<rect x="296" y="305" width="4" height="17" fill="#ffbf00"/>
<rect x="300" y="305" width="4" height="17" fill="#dfff20"/>
<rect x="304" y="305" width="4" height="17" fill="#ffdf00"/>
<rect x="308" y="305" width="4" height="17" fill="#bfff40"/>
<rect x="312" y="305" width="5" height="17" fill="#ffff00"/>
<rect x="317" y="305" width="4" height="17" fill="#ff8000"/>
<rect x="321" y="305" width="4" height="17" fill="#bfff40"/>
<rect x="325" y="305" width="8" height="17" fill="#dfff20"/>
<rect x="333" y="305" width="8" height="17" fill="#ffdf00"/>
<rect x="341" y="305" width="4" height="17" fill="#80ff80"/>
<rect x="345" y="305" width="4" height="17" fill="#ffdf00"/>
<rect x="349" y="305" width="4" height="17" fill="#ffbf00"/>
<rect x="353" y="305" width="5" height="17" fill="#ff9f00"/>
<rect x="358" y="305" width="4" height="17" fill="#ff8000"/>
<rect x="362" y="305" width="4" height="17" fill="#ffff00"/>
<rect x="366" y="305" width="4" height="17" fill="#ff8000"/>
<rect x="370" y="305" width="4" height="17" fill="#ffff00"/>
<rect x="374" y="305" width="4" height="17" fill="#ff4000"/>
<rect x="378" y="305" width="4" height="17" fill="#ff8000"/>
<rect x="382" y="305" width="4" height="17" fill="#ffff00"/>
<rect x="386" y="305" width="4" height="17" fill="#ff9f00"/>
<rect x="390" y="305" width="5" height="17" fill="#ff8000"/>
<rect x="395" y="305" width="4" height="17" fill="#ffbf00"/>
<rect x="399" y="305" width="4" height="17" fill="#ff4000"/>
<rect x="403" y="305" width="4" height="17" fill="#ff2000"/>
<rect x="407" y="305" width="4" height="17" fill="#ff8000"/>
<rect x="411" y="305" width="4" height="17" fill="#dfff20"/>
<rect x="415" y="305" width="4" height="17" fill="#bfff40"/>
<rect x="419" y="305" width="4" height="17" fill="#ff4000"/>
<rect x="423" y="305" width="4" height="17" fill="#ffbf00"/>
<rect x="427" y="305" width="5" height="17" fill="#40ffbf"/>
<rect x="432" y="305" width="4" height="17" fill="#ff8000"/>
<rect x="436" y="305" width="4" height="17" fill="#40ffbf"/>
<rect x="440" y="305" width="4" height="17" fill="#ff8000"/>
<rect x="444" y="305" width="4" height="17" fill="#ffdf00"/>
<rect x="448" y="305" width="8" height="17" fill="#ff9f00"/>
<rect x="456" y="305" width="4" height="17" fill="#ff4000"/>
<rect x="460" y="305" width="4" height="17" fill="#ff2000"/>
<rect x="464" y="305" width="4" height="17" fill="#ff8000"/>
<rect x="468" y="305" width="5" height="17" fill="#bfff40"/>
<rect x="473" y="305" width="4" height="17" fill="#ffbf00"/>
<rect x="477" y="305" width="4" height="17" fill="#ffdf00"/>
<rect x="481" y="305" width="4" height="17" fill="#bfff40"/>
<rect x="485" y="305" width="4" height="17" fill="#ff8000"/>
<rect x="489" y="305" width="4" height="17" fill="#00ffff"/>
<rect x="493" y="305" width="4" height="17" fill="#ff8000"/>
<rect x="497" y="305" width="4" height="17" fill="#bfff40"/>
<rect x="501" y="305" width="13" height="17" fill="#ff2000"/>
<rect x="514" y="305" width="4" height="17" fill="#ff4000"/>
<rect x="518" y="305" width="4" height="17" fill="#ff9f00"/>
<rect x="522" y="305" width="4" height="17" fill="#ff2000"/>
<rect x="526" y="305" width="4" height="17" fill="#bfff40"/>
<rect x="530" y="305" width="4" height="17" fill="#dfff20"/>
<rect x="534" y="305" width="4" height="17" fill="#ffdf00"/>
<rect x="538" y="305" width="4" height="17" fill="#ff9f00"/>
<rect x="542" y="305" width="5" height="17" fill="#ff2000"/>
<rect x="547" y="305" width="8" height="17" fill="#ffdf00"/>
<rect x="555" y="305" width="4" height="17" fill="#ff9f00"/>
<rect x="559" y="305" width="12" height="17" fill="#dfff20"/>
<rect x="571" y="305" width="4" height="17" fill="#ffdf00"/>
<rect x="575" y="305" width="4" height="17" fill="#ff9f00"/>
<rect x="579" y="305" width="4" height="17" fill="#ff2000"/>
<rect x="583" y="305" width="5" height="17" fill="#80ff80"/>
<rect x="588" y="305" width="4" height="17" fill="#ffdf00"/>
<rect x="592" y="305" width="8" height="17" fill="#0060ff"/>
<rect x="296" y="322" width="4" height="18" fill="#ffff00"/>
<rect x="300" y="322" width="4" height="18" fill="#dfff20"/>
<rect x="304" y="322" width="4" height="18" fill="#40ffbf"/>
<rect x="308" y="322" width="4" height="18" fill="#009fff"/>
<rect x="312" y="322" width="9" height="18" fill="#dfff20"/>
<rect x="321" y="322" width="4" height="18" fill="#ffdf00"/>
<rect x="325" y="322" width="8" height="18" fill="#ff9f00"/>
<rect x="333" y="322" width="4" height="18" fill="#dfff20"/>
<rect x="337" y="322" width="4" height="18" fill="#ff4000"/>
<rect x="341" y="322" width="4" height="18" fill="#80ff80"/>
<rect x="345" y="322" width="8" height="18" fill="#ffff00"/>
<rect x="353" y="322" width="9" height="18" fill="#dfff20"/>
<rect x="362" y="322" width="4" height="18" fill="#ffff00"/>
<rect x="366" y="322" width="8" height="18" fill="#ff8000"/>
<rect x="374" y="322" width="4" height="18" fill="#ffdf00"/>
<rect x="378" y="322" width="4" height="18" fill="#ff8000"/>
<rect x="382" y="322" width="8" height="18" fill="#ffbf00"/>
<rect x="390" y="322" width="5" height="18" fill="#ff8000"/>
<rect x="395" y="322" width="4" height="18" fill="#ffbf00"/>
<rect x="399" y="322" width="4" height="18" fill="#ff8000"/>
<rect x="403" y="322" width="4" height="18" fill="#bf0000"/>
<rect x="407" y="322" width="4" height="18" fill="#ffbf00"/>
<rect x="411" y="322" width="4" height="18" fill="#80ff80"/>
<rect x="415" y="322" width="4" height="18" fill="#ffff00"/>
<rect x="419" y="322" width="4" height="18" fill="#ff0000"/>
<rect x="423" y="322" width="4" height="18" fill="#ffbf00"/>
<rect x="427" y="322" width="5" height="18" fill="#ff8000"/>
<rect x="432" y="322" width="8" height="18" fill="#40ffbf"/>
<rect x="440" y="322" width="8" height="18" fill="#ff8000"/>
<rect x="448" y="322" width="4" height="18" fill="#80ff80"/>
<rect x="452" y="322" width="4" height="18" fill="#ffff00"/>
<rect x="456" y="322" width="12" height="18" fill="#ff4000"/>
<rect x="468" y="322" width="5" height="18" fill="#80ff80"/>
<rect x="473" y="322" width="4" height="18" fill="#ff4000"/>
<rect x="477" y="322" width="4" height="18" fill="#ffbf00"/>
<rect x="481" y="322" width="4" height="18" fill="#ffff00"/>
<rect x="485" y="322" width="8" height="18" fill="#bfff40"/>
<rect x="493" y="322" width="4" height="18" fill="#ff0000"/>
<rect x="497" y="322" width="4" height="18" fill="#ffff00"/>
<rect x="501" y="322" width="4" height="18" fill="#ff8000"/>
<rect x="505" y="322" width="5" height="18" fill="#ff4000"/>
<rect x="510" y="322" width="4" height="18" fill="#ffbf00"/>
<rect x="514" y="322" width="4" height="18" fill="#ff4000"/>
<rect x="518" y="322" width="4" height="18" fill="#ffbf00"/>
<rect x="522" y="322" width="4" height="18" fill="#bf0000"/>
<rect x="526" y="322" width="4" height="18" fill="#ff8000"/>
<rect x="530" y="322" width="4" height="18" fill="#80ff80"/>
<rect x="534" y="322" width="4" height="18" fill="#ff8000"/>
<rect x="538" y="322" width="4" height="18" fill="#ffbf00"/>
<rect x="542" y="322" width="5" height="18" fill="#df0000"/>
<rect x="547" y="322" width="4" height="18" fill="#ffdf00"/>
<rect x="551" y="322" width="4" height="18" fill="#80ff80"/>
<rect x="555" y="322" width="4" height="18" fill="#ffbf00"/>
<rect x="559" y="322" width="4" height="18" fill="#ff8000"/>
<rect x="563" y="322" width="4" height="18" fill="#ffff00"/>
<rect x="567" y="322" width="4" height="18" fill="#dfff20"/>
<rect x="571" y="322" width="4" height="18" fill="#ff4000"/>
<rect x="575" y="322" width="4" height="18" fill="#ff9f00"/>
<rect x="579" y="322" width="4" height="18" fill="#ff2000"/>
<rect x="583" y="322" width="5" height="18" fill="#40ffbf"/>
<rect x="588" y="322" width="4" height="18" fill="#80ff80"/>
<rect x="592" y="322" width="4" height="18" fill="#bfff40"/>
<rect x="596" y="322" width="4" height="18" fill="#00dfff"/>
<rect x="296" y="340" width="8" height="18" fill="#bfff40"/>
<rect x="304" y="340" width="4" height="18" fill="#ffbf00"/>
<rect x="308" y="340" width="9" height="18" fill="#40ffbf"/>
<rect x="317" y="340" width="4" height="18" fill="#009fff"/>
<rect x="321" y="340" width="4" height="18" fill="#ff9f00"/>
<rect x="325" y="340" width="4" height="18" fill="#80ff80"/>
<rect x="329" y="340" width="8" height="18" fill="#ffdf00"/>
<rect x="337" y="340" width="4" height="18" fill="#ff9f00"/>
<rect x="341" y="340" width="4" height="18" fill="#80ff80"/>
<rect x="345" y="340" width="4" height="18" fill="#ffdf00"/>
<rect x="349" y="340" width="4" height="18" fill="#ffbf00"/>
<rect x="353" y="340" width="5" height="18" fill="#ffff00"/>
<rect x="358" y="340" width="4" height="18" fill="#bfff40"/>
<rect x="362" y="340" width="4" height="18" fill="#ffff00"/>
<rect x="366" y="340" width="4" height="18" fill="#ff4000"/>
<rect x="370" y="340" width="4" height="18" fill="#ffdf00"/>
<rect x="374" y="340" width="4" height="18" fill="#ff8000"/>
<rect x="378" y="340" width="8" height="18" fill="#ffdf00"/>
<rect x="386" y="340" width="4" height="18" fill="#ff8000"/>
<rect x="390" y="340" width="5" height="18" fill="#ffff00"/>
<rect x="395" y="340" width="4" height="18" fill="#ff8000"/>
<rect x="399" y="340" width="4" height="18" fill="#ff0000"/>
<rect x="403" y="340" width="4" height="18" fill="#bf0000"/>
<rect x="407" y="340" width="4" height="18" fill="#df0000"/>
<rect x="411" y="340" width="4" height="18" fill="#ff2000"/>
<rect x="415" y="340" width="4" height="18" fill="#ff4000"/>
<rect x="419" y="340" width="4" height="18" fill="#ff9f00"/>
<rect x="423" y="340" width="4" height="18" fill="#ff8000"/>
<rect x="427" y="340" width="5" height="18" fill="#ff9f00"/>
<rect x="432" y="340" width="4" height="18" fill="#80ff80"/>
<rect x="436" y="340" width="4" height="18" fill="#ffdf00"/>
<rect x="440" y="340" width="4" height="18" fill="#ff4000"/>
<rect x="444" y="340" width="4" height="18" fill="#ff8000"/>
<rect x="448" y="340" width="4" height="18" fill="#00ffff"/>
<rect x="452" y="340" width="4" height="18" fill="#dfff20"/>
<rect x="456" y="340" width="8" height="18" fill="#ffdf00"/>
<rect x="464" y="340" width="4" height="18" fill="#ff4000"/>
<rect x="468" y="340" width="5" height="18" fill="#80ff80"/>
<rect x="473" y="340" width="4" height="18" fill="#bf0000"/>
<rect x="477" y="340" width="12" height="18" fill="#bfff40"/>
<rect x="489" y="340" width="4" height="18" fill="#ff9f00"/>
<rect x="493" y="340" width="4" height="18" fill="#ff8000"/>
<rect x="497" y="340" width="4" height="18" fill="#ffdf00"/>
<rect x="501" y="340" width="4" height="18" fill="#ff8000"/>
<rect x="505" y="340" width="5" height="18" fill="#ffdf00"/>
<rect x="510" y="340" width="8" height="18" fill="#ff4000"/>
<rect x="518" y="340" width="4" height="18" fill="#ffdf00"/>
<rect x="522" y="340" width="4" height="18" fill="#df0000"/>
<rect x="526" y="340" width="4" height="18" fill="#ffbf00"/>
<rect x="530" y="340" width="8" height="18" fill="#dfff20"/>
<rect x="538" y="340" width="4" height="18" fill="#ffdf00"/>
<rect x="542" y="340" width="9" height="18" fill="#bfff40"/>
<rect x="551" y="340" width="8" height="18" fill="#ffbf00"/>
<rect x="559" y="340" width="4" height="18" fill="#ffff00"/>
<rect x="563" y="340" width="4" height="18" fill="#ff9f00"/>
<rect x="567" y="340" width="4" height="18" fill="#bfff40"/>
<rect x="571" y="340" width="8" height="18" fill="#ff4000"/>
<rect x="579" y="340" width="4" height="18" fill="#ffbf00"/>
<rect x="583" y="340" width="5" height="18" fill="#bfff40"/>
<rect x="588" y="340" width="4" height="18" fill="#80ff80"/>
<rect x="592" y="340" width="4" height="18" fill="#bfff40"/>
<rect x="596" y="340" width="4" height="18" fill="#80ff80"/>
<rect x="296" y="358" width="12" height="17" fill="#dfff20"/>
<rect x="308" y="358" width="4" height="17" fill="#80ff80"/>
<rect x="312" y="358" width="5" height="17" fill="#ffdf00"/>
<rect x="317" y="358" width="4" height="17" fill="#ff8000"/>
<rect x="321" y="358" width="4" height="17" fill="#80ff80"/>
<rect x="325" y="358" width="8" height="17" fill="#dfff20"/>
<rect x="333" y="358" width="4" height="17" fill="#bfff40"/>
<rect x="337" y="358" width="4" height="17" fill="#ffff00"/>
<rect x="341" y="358" width="4" height="17" fill="#bfff40"/>
<rect x="345" y="358" width="4" height="17" fill="#ffbf00"/>
<rect x="349" y="358" width="4" height="17" fill="#ff8000"/>
<rect x="353" y="358" width="5" height="17" fill="#00ffff"/>
<rect x="358" y="358" width="4" height="17" fill="#ff8000"/>
<rect x="362" y="358" width="4" height="17" fill="#dfff20"/>
<rect x="366" y="358" width="4" height="17" fill="#ff4000"/>
<rect x="370" y="358" width="4" height="17" fill="#ff8000"/>
<rect x="374" y="358" width="4" height="17" fill="#80ff80"/>
<rect x="378" y="358" width="4" height="17" fill="#ffbf00"/>
<rect x="382" y="358" width="4" height="17" fill="#ff9f00"/>
<rect x="386" y="358" width="4" height="17" fill="#ff8000"/>
<rect x="390" y="358" width="5" height="17" fill="#ff9f00"/>
<rect x="395" y="358" width="4" height="17" fill="#ff4000"/>
<rect x="399" y="358" width="4" height="17" fill="#ff8000"/>
<rect x="403" y="358" width="4" height="17" fill="#ff4000"/>
<rect x="407" y="358" width="4" height="17" fill="#ff2000"/>
<rect x="411" y="358" width="4" height="17" fill="#ffdf00"/>
<rect x="415" y="358" width="4" height="17" fill="#dfff20"/>
<rect x="419" y="358" width="4" height="17" fill="#ff9f00"/>
<rect x="423" y="358" width="4" height="17" fill="#ff4000"/>
<rect x="427" y="358" width="5" height="17" fill="#ffff00"/>
<rect x="432" y="358" width="4" height="17" fill="#bfff40"/>
<rect x="436" y="358" width="4" height="17" fill="#ffbf00"/>
<rect x="440" y="358" width="4" height="17" fill="#dfff20"/>
<rect x="444" y="358" width="4" height="17" fill="#ffff00"/>
<rect x="448" y="358" width="8" height="17" fill="#ffdf00"/>
<rect x="456" y="358" width="4" height="17" fill="#ff9f00"/>
<rect x="460" y="358" width="4" height="17" fill="#ff8000"/>
<rect x="464" y="358" width="4" height="17" fill="#ffdf00"/>
<rect x="468" y="358" width="9" height="17" fill="#bfff40"/>
<rect x="477" y="358" width="4" height="17" fill="#ff9f00"/>
<rect x="481" y="358" width="4" height="17" fill="#ffdf00"/>
<rect x="485" y="358" width="4" height="17" fill="#ff8000"/>
<rect x="489" y="358" width="4" height="17" fill="#df0000"/>
<rect x="493" y="358" width="4" height="17" fill="#bf0000"/>
<rect x="497" y="358" width="4" height="17" fill="#ff9f00"/>
<rect x="501" y="358" width="4" height="17" fill="#bf0000"/>
<rect x="505" y="358" width="5" height="17" fill="#df0000"/>
<rect x="510" y="358" width="4" height="17" fill="#ff4000"/>
<rect x="514" y="358" width="4" height="17" fill="#ff9f00"/>
<rect x="518" y="358" width="4" height="17" fill="#ffbf00"/>
<rect x="522" y="358" width="4" height="17" fill="#ff9f00"/>
<rect x="526" y="358" width="4" height="17" fill="#ffff00"/>
<rect x="530" y="358" width="4" height="17" fill="#ff8000"/>
<rect x="534" y="358" width="4" height="17" fill="#ffdf00"/>
<rect x="538" y="358" width="4" height="17" fill="#ffff00"/>
<rect x="542" y="358" width="5" height="17" fill="#ff8000"/>
<rect x="547" y="358" width="4" height="17" fill="#ff4000"/>
<rect x="551" y="358" width="8" height="17" fill="#ffdf00"/>
<rect x="559" y="358" width="4" height="17" fill="#ffbf00"/>
<rect x="563" y="358" width="4" height="17" fill="#ffff00"/>
<rect x="567" y="358" width="4" height="17" fill="#bfff40"/>
<rect x="571" y="358" width="4" height="17" fill="#ff8000"/>
<rect x="575" y="358" width="4" height="17" fill="#bfff40"/>
<rect x="579" y="358" width="4" height="17" fill="#ffff00"/>
<rect x="583" y="358" width="9" height="17" fill="#bfff40"/>
<rect x="592" y="358" width="4" height="17" fill="#0060ff"/>
<rect x="596" y="358" width="4" height="17" fill="#009fff"/>
<rect x="296" y="375" width="4" height="18" fill="#ffff00"/>
<rect x="300" y="375" width="4" height="18" fill="#80ff80"/>
<rect x="304" y="375" width="4" height="18" fill="#bfff40"/>
<rect x="308" y="375" width="4" height="18" fill="#80ff80"/>
<rect x="312" y="375" width="5" height="18" fill="#dfff20"/>
<rect x="317" y="375" width="4" height="18" fill="#bfff40"/>
<rect x="321" y="375" width="4" height="18" fill="#80ff80"/>
<rect x="325" y="375" width="4" height="18" fill="#ffbf00"/>
<rect x="329" y="375" width="4" height="18" fill="#dfff20"/>
<rect x="333" y="375" width="4" height="18" fill="#ffff00"/>
<rect x="337" y="375" width="4" height="18" fill="#ffdf00"/>
<rect x="341" y="375" width="4" height="18" fill="#40ffbf"/>
<rect x="345" y="375" width="4" height="18" fill="#ffbf00"/>
<rect x="349" y="375" width="4" height="18" fill="#dfff20"/>
<rect x="353" y="375" width="5" height="18" fill="#00ffff"/>
<rect x="358" y="375" width="4" height="18" fill="#ffdf00"/>
<rect x="362" y="375" width="4" height="18" fill="#ff8000"/>
<rect x="366" y="375" width="4" height="18" fill="#ff4000"/>
<rect x="370" y="375" width="8" height="18" fill="#ff8000"/>
<rect x="378" y="375" width="4" height="18" fill="#ffff00"/>
<rect x="382" y="375" width="8" height="18" fill="#ff8000"/>
<rect x="390" y="375" width="5" height="18" fill="#ffbf00"/>
<rect x="395" y="375" width="4" height="18" fill="#ff9f00"/>
<rect x="399" y="375" width="4" height="18" fill="#ff8000"/>
<rect x="403" y="375" width="4" height="18" fill="#ff2000"/>
<rect x="407" y="375" width="4" height="18" fill="#ff4000"/>
<rect x="411" y="375" width="8" height="18" fill="#dfff20"/>
<rect x="419" y="375" width="4" height="18" fill="#ffbf00"/>
<rect x="423" y="375" width="9" height="18" fill="#ff4000"/>
<rect x="432" y="375" width="4" height="18" fill="#ffff00"/>
<rect x="436" y="375" width="12" height="18" fill="#ff9f00"/>
<rect x="448" y="375" width="4" height="18" fill="#bfff40"/>
<rect x="452" y="375" width="4" height="18" fill="#80ff80"/>
<rect x="456" y="375" width="4" height="18" fill="#ff8000"/>
<rect x="460" y="375" width="8" height="18" fill="#ff4000"/>
<rect x="468" y="375" width="5" height="18" fill="#bfff40"/>
<rect x="473" y="375" width="4" height="18" fill="#dfff20"/>
<rect x="477" y="375" width="4" height="18" fill="#ff8000"/>
<rect x="481" y="375" width="4" height="18" fill="#bfff40"/>
<rect x="485" y="375" width="4" height="18" fill="#ffbf00"/>
<rect x="489" y="375" width="4" height="18" fill="#ffdf00"/>
<rect x="493" y="375" width="4" height="18" fill="#ff2000"/>
<rect x="497" y="375" width="4" height="18" fill="#ffdf00"/>
<rect x="501" y="375" width="4" height="18" fill="#bf0000"/>
<rect x="505" y="375" width="9" height="18" fill="#ff4000"/>
<rect x="514" y="375" width="4" height="18" fill="#ffdf00"/>
<rect x="518" y="375" width="4" height="18" fill="#ffbf00"/>
<rect x="522" y="375" width="4" height="18" fill="#ff9f00"/>
<rect x="526" y="375" width="4" height="18" fill="#dfff20"/>
<rect x="530" y="375" width="4" height="18" fill="#ff2000"/>
<rect x="534" y="375" width="13" height="18" fill="#ff4000"/>
<rect x="547" y="375" width="4" height="18" fill="#ffbf00"/>
<rect x="551" y="375" width="4" height="18" fill="#ff9f00"/>
<rect x="555" y="375" width="4" height="18" fill="#80ff80"/>
<rect x="559" y="375" width="4" height="18" fill="#ff9f00"/>
<rect x="563" y="375" width="8" height="18" fill="#bfff40"/>
<rect x="571" y="375" width="4" height="18" fill="#ff8000"/>
<rect x="575" y="375" width="8" height="18" fill="#ffbf00"/>
<rect x="583" y="375" width="5" height="18" fill="#bfff40"/>
<rect x="588" y="375" width="4" height="18" fill="#dfff20"/>
<rect x="592" y="375" width="4" height="18" fill="#00dfff"/>
<rect x="596" y="375" width="4" height="18" fill="#0040ff"/>
<rect x="296" y="393" width="4" height="17" fill="#dfff20"/>
<rect x="300" y="393" width="8" height="17" fill="#ffff00"/>
<rect x="308" y="393" width="9" height="17" fill="#dfff20"/>
<rect x="317" y="393" width="4" height="17" fill="#ff2000"/>
<rect x="321" y="393" width="4" height="17" fill="#80ff80"/>
<rect x="325" y="393" width="4" height="17" fill="#40ffbf"/>
<rect x="329" y="393" width="8" height="17" fill="#80ff80"/>
<rect x="337" y="393" width="4" height="17" fill="#ff8000"/>
<rect x="341" y="393" width="4" height="17" fill="#00ffff"/>
<rect x="345" y="393" width="4" height="17" fill="#ff8000"/>
<rect x="349" y="393" width="4" height="17" fill="#dfff20"/>
<rect x="353" y="393" width="5" height="17" fill="#00dfff"/>
<rect x="358" y="393" width="8" height="17" fill="#ffdf00"/>
<rect x="366" y="393" width="4" height="17" fill="#ff8000"/>
<rect x="370" y="393" width="8" height="17" fill="#ff9f00"/>
<rect x="378" y="393" width="4" height="17" fill="#ff8000"/>
<rect x="382" y="393" width="4" height="17" fill="#ffbf00"/>
<rect x="386" y="393" width="4" height="17" fill="#ff8000"/>
<rect x="390" y="393" width="5" height="17" fill="#80ff80"/>
<rect x="395" y="393" width="4" height="17" fill="#ffbf00"/>
<rect x="399" y="393" width="4" height="17" fill="#ffff00"/>
<rect x="403" y="393" width="8" height="17" fill="#ff4000"/>
<rect x="411" y="393" width="4" height="17" fill="#ffbf00"/>
<rect x="415" y="393" width="4" height="17" fill="#bfff40"/>
<rect x="419" y="393" width="4" height="17" fill="#ffbf00"/>
<rect x="423" y="393" width="4" height="17" fill="#bfff40"/>
<rect x="427" y="393" width="9" height="17" fill="#ffbf00"/>
<rect x="436" y="393" width="4" height="17" fill="#ff4000"/>
<rect x="440" y="393" width="4" height="17" fill="#ffff00"/>
<rect x="444" y="393" width="4" height="17" fill="#ff4000"/>
<rect x="448" y="393" width="4" height="17" fill="#bfff40"/>
<rect x="452" y="393" width="4" height="17" fill="#00ffff"/>
<rect x="456" y="393" width="4" height="17" fill="#ffbf00"/>
<rect x="460" y="393" width="4" height="17" fill="#ff0000"/>
<rect x="464" y="393" width="9" height="17" fill="#ff8000"/>
<rect x="473" y="393" width="4" height="17" fill="#ffbf00"/>
<rect x="477" y="393" width="4" height="17" fill="#40ffbf"/>
<rect x="481" y="393" width="4" height="17" fill="#80ff80"/>
<rect x="485" y="393" width="4" height="17" fill="#bfff40"/>
<rect x="489" y="393" width="8" height="17" fill="#ff4000"/>
<rect x="497" y="393" width="4" height="17" fill="#ff8000"/>
<rect x="501" y="393" width="4" height="17" fill="#ff0000"/>
<rect x="505" y="393" width="13" height="17" fill="#ff8000"/>
<rect x="518" y="393" width="4" height="17" fill="#ffff00"/>
<rect x="522" y="393" width="4" height="17" fill="#ff0000"/>
<rect x="526" y="393" width="8" height="17" fill="#ffbf00"/>
<rect x="534" y="393" width="4" height="17" fill="#ff4000"/>
<rect x="538" y="393" width="4" height="17" fill="#ff0000"/>
<rect x="542" y="393" width="5" height="17" fill="#ff8000"/>
<rect x="547" y="393" width="4" height="17" fill="#bfff40"/>
<rect x="551" y="393" width="4" height="17" fill="#ffbf00"/>
<rect x="555" y="393" width="16" height="17" fill="#ff9f00"/>
<rect x="571" y="393" width="4" height="17" fill="#ff2000"/>
<rect x="575" y="393" width="4" height="17" fill="#ffbf00"/>
<rect x="579" y="393" width="4" height="17" fill="#dfff20"/>
<rect x="583" y="393" width="5" height="17" fill="#bfff40"/>
<rect x="588" y="393" width="4" height="17" fill="#dfff20"/>
<rect x="592" y="393" width="4" height="17" fill="#bfff40"/>
<rect x="596" y="393" width="4" height="17" fill="#009fff"/>
<rect x="296" y="410" width="4" height="18" fill="#80ff80"/>
<rect x="300" y="410" width="4" height="18" fill="#40ffbf"/>
<rect x="304" y="410" width="8" height="18" fill="#00ffff"/>
<rect x="312" y="410" width="5" height="18" fill="#40ffbf"/>
<rect x="317" y="410" width="4" height="18" fill="#00ffff"/>
<rect x="321" y="410" width="8" height="18" fill="#dfff20"/>
<rect x="329" y="410" width="4" height="18" fill="#ffbf00"/>
<rect x="333" y="410" width="4" height="18" fill="#dfff20"/>
<rect x="337" y="410" width="4" height="18" fill="#ffbf00"/>
<rect x="341" y="410" width="8" height="18" fill="#80ff80"/>
<rect x="349" y="410" width="4" height="18" fill="#ffbf00"/>
<rect x="353" y="410" width="5" height="18" fill="#ff4000"/>
<rect x="358" y="410" width="8" height="18" fill="#ffbf00"/>
<rect x="366" y="410" width="4" height="18" fill="#ff8000"/>
<rect x="370" y="410" width="4" height="18" fill="#ff0000"/>
<rect x="374" y="410" width="4" height="18" fill="#80ff80"/>
<rect x="378" y="410" width="4" height="18" fill="#bfff40"/>
<rect x="382" y="410" width="4" height="18" fill="#ff9f00"/>
<rect x="386" y="410" width="4" height="18" fill="#ff4000"/>
<rect x="390" y="410" width="5" height="18" fill="#ffdf00"/>
<rect x="395" y="410" width="4" height="18" fill="#ffbf00"/>
<rect x="399" y="410" width="8" height="18" fill="#ff9f00"/>
<rect x="407" y="410" width="4" height="18" fill="#df0000"/>
<rect x="411" y="410" width="12" height="18" fill="#ffbf00"/>
<rect x="423" y="410" width="4" height="18" fill="#ff4000"/>
<rect x="427" y="410" width="5" height="18" fill="#ff9f00"/>
<rect x="432" y="410" width="4" height="18" fill="#ffff00"/>
<rect x="436" y="410" width="4" height="18" fill="#df0000"/>
<rect x="440" y="410" width="4" height="18" fill="#ffbf00"/>
<rect x="444" y="410" width="4" height="18" fill="#ff9f00"/>
<rect x="448" y="410" width="4" height="18" fill="#bfff40"/>
<rect x="452" y="410" width="4" height="18" fill="#009fff"/>
<rect x="456" y="410" width="4" height="18" fill="#ffdf00"/>
<rect x="460" y="410" width="4" height="18" fill="#ff9f00"/>
<rect x="464" y="410" width="4" height="18" fill="#ff2000"/>
<rect x="468" y="410" width="5" height="18" fill="#ff4000"/>
<rect x="473" y="410" width="4" height="18" fill="#ff9f00"/>
<rect x="477" y="410" width="4" height="18" fill="#ff4000"/>
<rect x="481" y="410" width="4" height="18" fill="#ffbf00"/>
<rect x="485" y="410" width="4" height="18" fill="#ff9f00"/>
<rect x="489" y="410" width="4" height="18" fill="#ffdf00"/>
<rect x="493" y="410" width="4" height="18" fill="#ff2000"/>
<rect x="497" y="410" width="4" height="18" fill="#ff4000"/>
<rect x="501" y="410" width="4" height="18" fill="#ff2000"/>
<rect x="505" y="410" width="5" height="18" fill="#ff9f00"/>
<rect x="510" y="410" width="4" height="18" fill="#ff8000"/>
<rect x="514" y="410" width="4" height="18" fill="#dfff20"/>
<rect x="518" y="410" width="4" height="18" fill="#ffbf00"/>
<rect x="522" y="410" width="4" height="18" fill="#ff9f00"/>
<rect x="526" y="410" width="4" height="18" fill="#ffbf00"/>
<rect x="530" y="410" width="4" height="18" fill="#ff4000"/>
<rect x="534" y="410" width="4" height="18" fill="#ff2000"/>
<rect x="538" y="410" width="9" height="18" fill="#ffdf00"/>
<rect x="547" y="410" width="4" height="18" fill="#dfff20"/>
<rect x="551" y="410" width="4" height="18" fill="#ff8000"/>
<rect x="555" y="410" width="4" height="18" fill="#80ff80"/>
<rect x="559" y="410" width="4" height="18" fill="#dfff20"/>
<rect x="563" y="410" width="4" height="18" fill="#ff9f00"/>
<rect x="567" y="410" width="4" height="18" fill="#bfff40"/>
<rect x="571" y="410" width="4" height="18" fill="#ff2000"/>
<rect x="575" y="410" width="4" height="18" fill="#80ff80"/>
<rect x="579" y="410" width="4" height="18" fill="#ff9f00"/>
<rect x="583" y="410" width="5" height="18" fill="#ffff00"/>
<rect x="588" y="410" width="4" height="18" fill="#ffbf00"/>
<rect x="592" y="410" width="4" height="18" fill="#80ff80"/>
<rect x="596" y="410" width="4" height="18" fill="#00dfff"/>
<rect x="296" y="428" width="4" height="18" fill="#80ff80"/>
<rect x="300" y="428" width="4" height="18" fill="#bfff40"/>
<rect x="304" y="428" width="4" height="18" fill="#80ff80"/>
<rect x="308" y="428" width="4" height="18" fill="#40ffbf"/>
<rect x="312" y="428" width="17" height="18" fill="#80ff80"/>
<rect x="329" y="428" width="4" height="18" fill="#bfff40"/>
<rect x="333" y="428" width="4" height="18" fill="#40ffbf"/>
<rect x="337" y="428" width="4" height="18" fill="#ff4000"/>
<rect x="341" y="428" width="4" height="18" fill="#80ff80"/>
<rect x="345" y="428" width="4" height="18" fill="#ffbf00"/>
<rect x="349" y="428" width="9" height="18" fill="#bfff40"/>
<rect x="358" y="428" width="4" height="18" fill="#ff8000"/>
<rect x="362" y="428" width="4" height="18" fill="#ffff00"/>
<rect x="366" y="428" width="4" height="18" fill="#bf0000"/>
<rect x="370" y="428" width="4" height="18" fill="#ffff00"/>
<rect x="374" y="428" width="4" height="18" fill="#ffbf00"/>
<rect x="378" y="428" width="4" height="18" fill="#ffdf00"/>
<rect x="382" y="428" width="4" height="18" fill="#df0000"/>
<rect x="386" y="428" width="4" height="18" fill="#ffbf00"/>
<rect x="390" y="428" width="5" height="18" fill="#ffff00"/>
<rect x="395" y="428" width="4" height="18" fill="#ffbf00"/>
<rect x="399" y="428" width="4" height="18" fill="#bfff40"/>
<rect x="403" y="428" width="4" height="18" fill="#ff4000"/>
<rect x="407" y="428" width="4" height="18" fill="#df0000"/>
<rect x="411" y="428" width="8" height="18" fill="#80ff80"/>
<rect x="419" y="428" width="4" height="18" fill="#bfff40"/>
<rect x="423" y="428" width="4" height="18" fill="#ff8000"/>
<rect x="427" y="428" width="5" height="18" fill="#ffff00"/>
<rect x="432" y="428" width="4" height="18" fill="#bfff40"/>
<rect x="436" y="428" width="4" height="18" fill="#df0000"/>
<rect x="440" y="428" width="4" height="18" fill="#ff8000"/>
<rect x="444" y="428" width="4" height="18" fill="#ffdf00"/>
<rect x="448" y="428" width="8" height="18" fill="#bfff40"/>
<rect x="456" y="428" width="4" height="18" fill="#ffff00"/>
<rect x="460" y="428" width="4" height="18" fill="#ff9f00"/>
<rect x="464" y="428" width="4" height="18" fill="#ff8000"/>
<rect x="468" y="428" width="5" height="18" fill="#bfff40"/>
<rect x="473" y="428" width="4" height="18" fill="#ffdf00"/>
<rect x="477" y="428" width="4" height="18" fill="#80ff80"/>
<rect x="481" y="428" width="8" height="18" fill="#ff8000"/>
<rect x="489" y="428" width="4" height="18" fill="#ff4000"/>
<rect x="493" y="428" width="4" height="18" fill="#bf0000"/>
<rect x="497" y="428" width="4" height="18" fill="#800000"/>
<rect x="501" y="428" width="4" height="18" fill="#df0000"/>
<rect x="505" y="428" width="5" height="18" fill="#80ff80"/>
<rect x="510" y="428" width="4" height="18" fill="#df0000"/>
<rect x="514" y="428" width="12" height="18" fill="#ffdf00"/>
<rect x="526" y="428" width="8" height="18" fill="#ff9f00"/>
<rect x="534" y="428" width="4" height="18" fill="#ffdf00"/>
<rect x="538" y="428" width="9" height="18" fill="#ff9f00"/>
<rect x="547" y="428" width="4" height="18" fill="#ff8000"/>
<rect x="551" y="428" width="4" height="18" fill="#ff2000"/>
<rect x="555" y="428" width="4" height="18" fill="#ff9f00"/>
<rect x="559" y="428" width="4" height="18" fill="#ffdf00"/>
<rect x="563" y="428" width="4" height="18" fill="#ffbf00"/>
<rect x="567" y="428" width="4" height="18" fill="#dfff20"/>
<rect x="571" y="428" width="4" height="18" fill="#ff2000"/>
<rect x="575" y="428" width="4" height="18" fill="#bfff40"/>
<rect x="579" y="428" width="4" height="18" fill="#ffdf00"/>
<rect x="583" y="428" width="5" height="18" fill="#bfff40"/>
<rect x="588" y="428" width="4" height="18" fill="#dfff20"/>
<rect x="592" y="428" width="8" height="18" fill="#80ff80"/>
<rect x="296" y="446" width="4" height="17" fill="#40ffbf"/>
<rect x="300" y="446" width="4" height="17" fill="#80ff80"/>
<rect x="304" y="446" width="4" height="17" fill="#bfff40"/>
<rect x="308" y="446" width="4" height="17" fill="#40ffbf"/>
<rect x="312" y="446" width="5" height="17" fill="#ffbf00"/>
<rect x="317" y="446" width="4" height="17" fill="#00ffff"/>
<rect x="321" y="446" width="4" height="17" fill="#40ffbf"/>
<rect x="325" y="446" width="4" height="17" fill="#bfff40"/>
<rect x="329" y="446" width="4" height="17" fill="#80ff80"/>
<rect x="333" y="446" width="4" height="17" fill="#009fff"/>
<rect x="337" y="446" width="12" height="17" fill="#ffbf00"/>
<rect x="349" y="446" width="4" height="17" fill="#dfff20"/>
<rect x="353" y="446" width="5" height="17" fill="#bfff40"/>
<rect x="358" y="446" width="4" height="17" fill="#ffbf00"/>
<rect x="362" y="446" width="4" height="17" fill="#ffff00"/>
<rect x="366" y="446" width="4" height="17" fill="#ff8000"/>
<rect x="370" y="446" width="4" height="17" fill="#ffbf00"/>
<rect x="374" y="446" width="4" height="17" fill="#ff8000"/>
<rect x="378" y="446" width="8" height="17" fill="#ff9f00"/>
<rect x="386" y="446" width="4" height="17" fill="#ff8000"/>
<rect x="390" y="446" width="5" height="17" fill="#ff9f00"/>
<rect x="395" y="446" width="4" height="17" fill="#ff4000"/>
<rect x="399" y="446" width="4" height="17" fill="#dfff20"/>
<rect x="403" y="446" width="4" height="17" fill="#ff9f00"/>
<rect x="407" y="446" width="4" height="17" fill="#ff4000"/>
<rect x="411" y="446" width="4" height="17" fill="#ffbf00"/>
<rect x="415" y="446" width="4" height="17" fill="#ffff00"/>
<rect x="419" y="446" width="4" height="17" fill="#dfff20"/>
<rect x="423" y="446" width="4" height="17" fill="#ff4000"/>
<rect x="427" y="446" width="5" height="17" fill="#ffbf00"/>
<rect x="432" y="446" width="4" height="17" fill="#bfff40"/>
<rect x="436" y="446" width="4" height="17" fill="#ff9f00"/>
<rect x="440" y="446" width="4" height="17" fill="#ffbf00"/>
<rect x="444" y="446" width="4" height="17" fill="#ff9f00"/>
<rect x="448" y="446" width="4" height="17" fill="#bfff40"/>
<rect x="452" y="446" width="4" height="17" fill="#dfff20"/>
<rect x="456" y="446" width="4" height="17" fill="#bfff40"/>
<rect x="460" y="446" width="4" height="17" fill="#ffbf00"/>
<rect x="464" y="446" width="4" height="17" fill="#ff9f00"/>
<rect x="468" y="446" width="9" height="17" fill="#dfff20"/>
<rect x="477" y="446" width="4" height="17" fill="#ffff00"/>
<rect x="481" y="446" width="4" height="17" fill="#ff9f00"/>
<rect x="485" y="446" width="4" height="17" fill="#ffbf00"/>
<rect x="489" y="446" width="4" height="17" fill="#ff9f00"/>
<rect x="493" y="446" width="4" height="17" fill="#ff8000"/>
<rect x="497" y="446" width="4" height="17" fill="#800000"/>
<rect x="501" y="446" width="4" height="17" fill="#ff2000"/>
<rect x="505" y="446" width="5" height="17" fill="#ffff00"/>
<rect x="510" y="446" width="4" height="17" fill="#bf0000"/>
<rect x="514" y="446" width="4" height="17" fill="#ffbf00"/>
<rect x="518" y="446" width="8" height="17" fill="#ff9f00"/>
<rect x="526" y="446" width="12" height="17" fill="#ff4000"/>
<rect x="538" y="446" width="4" height="17" fill="#ff9f00"/>
<rect x="542" y="446" width="5" height="17" fill="#ffbf00"/>
<rect x="547" y="446" width="4" height="17" fill="#ffdf00"/>
<rect x="551" y="446" width="12" height="17" fill="#ff9f00"/>
<rect x="563" y="446" width="4" height="17" fill="#ff8000"/>
<rect x="567" y="446" width="4" height="17" fill="#dfff20"/>
<rect x="571" y="446" width="4" height="17" fill="#df0000"/>
<rect x="575" y="446" width="4" height="17" fill="#40ffbf"/>
<rect x="579" y="446" width="4" height="17" fill="#ff8000"/>
<rect x="583" y="446" width="5" height="17" fill="#bfff40"/>
<rect x="588" y="446" width="4" height="17" fill="#ffbf00"/>
<rect x="592" y="446" width="4" height="17" fill="#40ffbf"/>
<rect x="596" y="446" width="4" height="17" fill="#009fff"/>
<rect x="296" y="463" width="4" height="18" fill="#ff9f00"/>
<rect x="300" y="463" width="4" height="18" fill="#ffdf00"/>
<rect x="304" y="463" width="4" height="18" fill="#ff8000"/>
<rect x="308" y="463" width="4" height="18" fill="#bfff40"/>
<rect x="312" y="463" width="5" height="18" fill="#ffdf00"/>
<rect x="317" y="463" width="8" height="18" fill="#dfff20"/>
<rect x="325" y="463" width="4" height="18" fill="#80ff80"/>
<rect x="329" y="463" width="4" height="18" fill="#40ffbf"/>
<rect x="333" y="463" width="4" height="18" fill="#bfff40"/>
<rect x="337" y="463" width="4" height="18" fill="#dfff20"/>
<rect x="341" y="463" width="4" height="18" fill="#ff9f00"/>
<rect x="345" y="463" width="8" height="18" fill="#ffff00"/>
<rect x="353" y="463" width="5" height="18" fill="#009fff"/>
<rect x="358" y="463" width="4" height="18" fill="#ffbf00"/>
<rect x="362" y="463" width="4" height="18" fill="#ff9f00"/>
<rect x="366" y="463" width="4" height="18" fill="#ff4000"/>
<rect x="370" y="463" width="4" height="18" fill="#ff2000"/>
<rect x="374" y="463" width="4" height="18" fill="#ff4000"/>
<rect x="378" y="463" width="8" height="18" fill="#ff9f00"/>
<rect x="386" y="463" width="4" height="18" fill="#ff4000"/>
<rect x="390" y="463" width="5" height="18" fill="#ffdf00"/>
<rect x="395" y="463" width="4" height="18" fill="#ff8000"/>
<rect x="399" y="463" width="4" height="18" fill="#ff4000"/>
<rect x="403" y="463" width="4" height="18" fill="#ff2000"/>
<rect x="407" y="463" width="4" height="18" fill="#ff8000"/>
<rect x="411" y="463" width="4" height="18" fill="#ffdf00"/>
<rect x="415" y="463" width="4" height="18" fill="#ffbf00"/>
<rect x="419" y="463" width="4" height="18" fill="#bfff40"/>
<rect x="423" y="463" width="4" height="18" fill="#ff2000"/>
<rect x="427" y="463" width="5" height="18" fill="#ffdf00"/>
<rect x="432" y="463" width="4" height="18" fill="#bfff40"/>
<rect x="436" y="463" width="4" height="18" fill="#ff4000"/>
<rect x="440" y="463" width="4" height="18" fill="#ff8000"/>
<rect x="444" y="463" width="4" height="18" fill="#ffff00"/>
<rect x="448" y="463" width="4" height="18" fill="#40ffbf"/>
<rect x="452" y="463" width="4" height="18" fill="#00ffff"/>
<rect x="456" y="463" width="4" height="18" fill="#bfff40"/>
<rect x="460" y="463" width="4" height="18" fill="#dfff20"/>
<rect x="464" y="463" width="4" height="18" fill="#ffbf00"/>
<rect x="468" y="463" width="5" height="18" fill="#ff0000"/>
<rect x="473" y="463" width="4" height="18" fill="#00ffff"/>
<rect x="477" y="463" width="4" height="18" fill="#ffbf00"/>
<rect x="481" y="463" width="8" height="18" fill="#ffff00"/>
<rect x="489" y="463" width="4" height="18" fill="#ffbf00"/>
<rect x="493" y="463" width="8" height="18" fill="#ff4000"/>
<rect x="501" y="463" width="4" height="18" fill="#ff8000"/>
<rect x="505" y="463" width="5" height="18" fill="#ff4000"/>
<rect x="510" y="463" width="4" height="18" fill="#ff2000"/>
<rect x="514" y="463" width="4" height="18" fill="#ffbf00"/>
<rect x="518" y="463" width="8" height="18" fill="#ffdf00"/>
<rect x="526" y="463" width="4" height="18" fill="#ff4000"/>
<rect x="530" y="463" width="4" height="18" fill="#ff8000"/>
<rect x="534" y="463" width="4" height="18" fill="#ff0000"/>
<rect x="538" y="463" width="4" height="18" fill="#ff9f00"/>
<rect x="542" y="463" width="5" height="18" fill="#ffdf00"/>
<rect x="547" y="463" width="4" height="18" fill="#bfff40"/>
<rect x="551" y="463" width="4" height="18" fill="#ffbf00"/>
<rect x="555" y="463" width="4" height="18" fill="#40ffbf"/>
<rect x="559" y="463" width="4" height="18" fill="#ff4000"/>
<rect x="563" y="463" width="4" height="18" fill="#ffdf00"/>
<rect x="567" y="463" width="4" height="18" fill="#ffff00"/>
<rect x="571" y="463" width="4" height="18" fill="#ff2000"/>
<rect x="575" y="463" width="4" height="18" fill="#80ff80"/>
<rect x="579" y="463" width="4" height="18" fill="#ffdf00"/>
<rect x="583" y="463" width="5" height="18" fill="#dfff20"/>
<rect x="588" y="463" width="4" height="18" fill="#ff9f00"/>
<rect x="592" y="463" width="4" height="18" fill="#00ffff"/>
<rect x="596" y="463" width="4" height="18" fill="#009fff"/></g>
<g><rect x="296" y="40" width="305" height="1" fill="#000"/><rect x="296" y="481" width="305" height="1" fill="#000"/><rect x="296" y="40" width="1" height="442" fill="#000"/><rect x="600" y="40" width="1" height="442" fill="#000"/><rect x="335" y="476" width="1" height="5" fill="#000"/><rect x="335" y="41" width="1" height="5" fill="#000"/><rect x="376" y="476" width="1" height="5" fill="#000"/><rect x="376" y="41" width="1" height="5" fill="#000"/><rect x="417" y="476" width="1" height="5" fill="#000"/><rect x="417" y="41" width="1" height="5" fill="#000"/><rect x="458" y="476" width="1" height="5" fill="#000"/><rect x="458" y="41" width="1" height="5" fill="#000"/><rect x="499" y="476" width="1" height="5" fill="#000"/><rect x="499" y="41" width="1" height="5" fill="#000"/><rect x="540" y="476" width="1" height="5" fill="#000"/><rect x="540" y="41" width="1" height="5" fill="#000"/><rect x="581" y="476" width="1" height="5" fill="#000"/><rect x="581" y="41" width="1" height="5" fill="#000"/><rect x="297" y="120" width="4" height="1" fill="#000"/><rect x="595" y="120" width="5" height="1" fill="#000"/><rect x="297" y="208" width="4" height="1" fill="#000"/><rect x="595" y="208" width="5" height="1" fill="#000"/><rect x="297" y="296" width="4" height="1" fill="#000"/><rect x="595" y="296" width="5" height="1" fill="#000"/><rect x="297" y="384" width="4" height="1" fill="#000"/><rect x="595" y="384" width="5" height="1" fill="#000"/><rect x="297" y="472" width="4" height="1" fill="#000"/><rect x="595" y="472" width="5" height="1" fill="#000"/></g>
<g><rect x="618" y="474" width="27" height="7" fill="#00008f"/><rect x="618" y="467" width="27" height="7" fill="#00009f"/><rect x="618" y="460" width="27" height="7" fill="#0000af"/><rect x="618" y="453" width="27" height="7" fill="#0000bf"/><rect x="618" y="447" width="27" height="6" fill="#0000cf"/><rect x="618" y="440" width="27" height="7" fill="#0000df"/><rect x="618" y="433" width="27" height="7" fill="#0000ef"/><rect x="618" y="426" width="27" height="7" fill="#0000ff"/><rect x="618" y="419" width="27" height="7" fill="#0010ff"/><rect x="618" y="412" width="27" height="7" fill="#0020ff"/><rect x="618" y="405" width="27" height="7" fill="#0030ff"/><rect x="618" y="398" width="27" height="7" fill="#0040ff"/><rect x="618" y="391" width="27" height="7" fill="#0050ff"/><rect x="618" y="385" width="27" height="6" fill="#0060ff"/><rect x="618" y="378" width="27" height="7" fill="#0070ff"/><rect x="618" y="371" width="27" height="7" fill="#0080ff"/><rect x="618" y="364" width="27" height="7" fill="#008fff"/><rect x="618" y="357" width="27" height="7" fill="#009fff"/><rect x="618" y="350" width="27" height="7" fill="#00afff"/><rect x="618" y="343" width="27" height="7" fill="#00bfff"/><rect x="618" y="336" width="27" height="7" fill="#00cfff"/><rect x="618" y="329" width="27" height="7" fill="#00dfff"/><rect x="618" y="323" width="27" height="6" fill="#00efff"/><rect x="618" y="316" width="27" height="7" fill="#00ffff"/><rect x="618" y="309" width="27" height="7" fill="#10ffef"/><rect x="618" y="302" width="27" height="7" fill="#20ffdf"/><rect x="618" y="295" width="27" height="7" fill="#30ffcf"/><rect x="618" y="288" width="27" height="7" fill="#40ffbf"/><rect x="618" y="281" width="27" height="7" fill="#50ffaf"/><rect x="618" y="274" width="27" height="7" fill="#60ff9f"/><rect x="618" y="267" width="27" height="7" fill="#70ff8f"/><rect x="618" y="260" width="27" height="7" fill="#80ff80"/><rect x="618" y="254" width="27" height="6" fill="#8fff70"/><rect x="618" y="247" width="27" height="7" fill="#9fff60"/><rect x="618" y="240" width="27" height="7" fill="#afff50"/><rect x="618" y="233" width="27" height="7" fill="#bfff40"/><rect x="618" y="226" width="27" height="7" fill="#cfff30"/><rect x="618" y="219" width="27" height="7" fill="#dfff20"/><rect x="618" y="212" width="27" height="7" fill="#efff10"/><rect x="618" y="205" width="27" height="7" fill="#ffff00"/><rect x="618" y="198" width="27" height="7" fill="#ffef00"/><rect x="618" y="192" width="27" height="6" fill="#ffdf00"/><rect x="618" y="185" width="27" height="7" fill="#ffcf00"/><rect x="618" y="178" width="27" height="7" fill="#ffbf00"/><rect x="618" y="171" width="27" height="7" fill="#ffaf00"/><rect x="618" y="164" width="27" height="7" fill="#ff9f00"/><rect x="618" y="157" width="27" height="7" fill="#ff8f00"/><rect x="618" y="150" width="27" height="7" fill="#ff8000"/><rect x="618" y="143" width="27" height="7" fill="#ff7000"/><rect x="618" y="136" width="27" height="7" fill="#ff6000"/><rect x="618" y="130" width="27" height="6" fill="#ff5000"/><rect x="618" y="123" width="27" height="7" fill="#ff4000"/><rect x="618" y="116" width="27" height="7" fill="#ff3000"/><rect x="618" y="109" width="27" height="7" fill="#ff2000"/><rect x="618" y="102" width="27" height="7" fill="#ff1000"/><rect x="618" y="95" width="27" height="7" fill="#ff0000"/><rect x="618" y="88" width="27" height="7" fill="#ef0000"/><rect x="618" y="81" width="27" height="7" fill="#df0000"/><rect x="618" y="74" width="27" height="7" fill="#cf0000"/><rect x="618" y="68" width="27" height="6" fill="#bf0000"/><rect x="618" y="61" width="27" height="7" fill="#af0000"/><rect x="618" y="54" width="27" height="7" fill="#9f0000"/><rect x="618" y="47" width="27" height="7" fill="#8f0000"/><rect x="618" y="40" width="27" height="7" fill="#800000"/><rect x="618" y="40" width="27" height="1" fill="#000"/><rect x="618" y="481" width="27" height="1" fill="#000"/><rect x="618" y="40" width="1" height="442" fill="#000"/><rect x="644" y="40" width="1" height="442" fill="#000"/><rect x="619" y="53" width="4" height="1" fill="#000"/><rect x="639" y="53" width="5" height="1" fill="#000"/><rect x="619" y="100" width="4" height="1" fill="#000"/><rect x="639" y="100" width="5" height="1" fill="#000"/><rect x="619" y="147" width="4" height="1" fill="#000"/><rect x="639" y="147" width="5" height="1" fill="#000"/><rect x="619" y="194" width="4" height="1" fill="#000"/><rect x="639" y="194" width="5" height="1" fill="#000"/><rect x="619" y="241" width="4" height="1" fill="#000"/><rect x="639" y="241" width="5" height="1" fill="#000"/><rect x="619" y="287" width="4" height="1" fill="#000"/><rect x="639" y="287" width="5" height="1" fill="#000"/><rect x="619" y="334" width="4" height="1" fill="#000"/><rect x="639" y="334" width="5" height="1" fill="#000"/><rect x="619" y="381" width="4" height="1" fill="#000"/><rect x="639" y="381" width="5" height="1" fill="#000"/><rect x="619" y="428" width="4" height="1" fill="#000"/><rect x="639" y="428" width="5" height="1" fill="#000"/><rect x="619" y="475" width="4" height="1" fill="#000"/><rect x="639" y="475" width="5" height="1" fill="#000"/></g>
<g><rect x="99" y="102" width="141" height="1" fill="#0000ff"/><rect x="99" y="102" width="1" height="195" fill="#0000ff"/><rect x="96" y="234" width="1" height="221" fill="#0000ff"/><rect x="96" y="454" width="144" height="1" fill="#0000ff"/><rect x="102" y="261" width="1" height="133" fill="#0000ff"/><rect x="102" y="393" width="138" height="1" fill="#0000ff"/><rect x="96" y="234" width="2" height="1" fill="#0000ff"/><rect x="99" y="296" width="2" height="1" fill="#0000ff"/><rect x="102" y="261" width="8" height="1" fill="#0000ff"/><rect x="112" y="243" width="1" height="15" fill="#0000ff"/><rect x="112" y="243" width="80" height="1" fill="#0000ff"/><rect x="194" y="234" width="1" height="6" fill="#0000ff"/><rect x="194" y="234" width="43" height="1" fill="#0000ff"/><rect x="238" y="217" width="1" height="15" fill="#0000ff"/><rect x="238" y="217" width="2" height="1" fill="#0000ff"/><rect x="239" y="99" width="3" height="8" fill="#000"/><rect x="240" y="100" width="1" height="6" fill="#80ff80"/><rect x="239" y="389" width="3" height="8" fill="#000"/><rect x="240" y="390" width="1" height="6" fill="#80ff80"/><rect x="239" y="451" width="3" height="8" fill="#000"/><rect x="240" y="452" width="1" height="6" fill="#80ff80"/><rect x="239" y="213" width="3" height="8" fill="#000"/><rect x="240" y="214" width="1" height="6" fill="#80ff80"/><rect x="236" y="231" width="3" height="8" fill="#000"/><rect x="237" y="232" width="1" height="6" fill="#80ff80"/><rect x="191" y="239" width="4" height="8" fill="#000"/><rect x="192" y="240" width="2" height="6" fill="#80ff80"/><rect x="100" y="292" width="3" height="8" fill="#000"/><rect x="101" y="293" width="1" height="6" fill="#80ff80"/><rect x="109" y="257" width="4" height="8" fill="#000"/><rect x="110" y="258" width="2" height="6" fill="#80ff80"/><rect x="97" y="231" width="3" height="8" fill="#000"/><rect x="98" y="232" width="1" height="6" fill="#80ff80"/></g>
<g><text x="335.5" y="495.5" text-anchor="middle" >10</text><text x="376.5" y="495.5" text-anchor="middle" >20</text><text x="417.5" y="495.5" text-anchor="middle" >30</text><text x="458.5" y="495.5" text-anchor="middle" >40</text><text x="499.5" y="495.5" text-anchor="middle" >50</text><text x="540.5" y="495.5" text-anchor="middle" >60</text><text x="581.5" y="495.5" text-anchor="middle" >70</text><text x="291.5" y="123.5" text-anchor="end" >5</text><text x="291.5" y="211.5" text-anchor="end" >10</text><text x="291.5" y="299.5" text-anchor="end" >15</text><text x="291.5" y="387.5" text-anchor="end" >20</text><text x="291.5" y="475.5" text-anchor="end" >25</text><text x="647" y="56.5" text-anchor="start" >0.3</text><text x="647" y="103.5" text-anchor="start" >0.2</text><text x="647" y="150.5" text-anchor="start" >0.1</text><text x="647" y="197.5" text-anchor="start" >0</text><text x="647" y="244.5" text-anchor="start" >-0.1</text><text x="647" y="290.5" text-anchor="start" >-0.2</text><text x="647" y="337.5" text-anchor="start" >-0.3</text><text x="647" y="384.5" text-anchor="start" >-0.4</text><text x="647" y="431.5" text-anchor="start" >-0.5</text><text x="647" y="478.5" text-anchor="start" >-0.6</text><text x="446.5" y="512" text-anchor="middle" >Samples ordered by S1(G1)</text><text x="0" y="0" text-anchor="middle" style="font-size:12.35px" transform="translate(269 263) rotate(-90)">Genes (reordered according to dendrogram)</text></g>
</svg>
</body></html>
